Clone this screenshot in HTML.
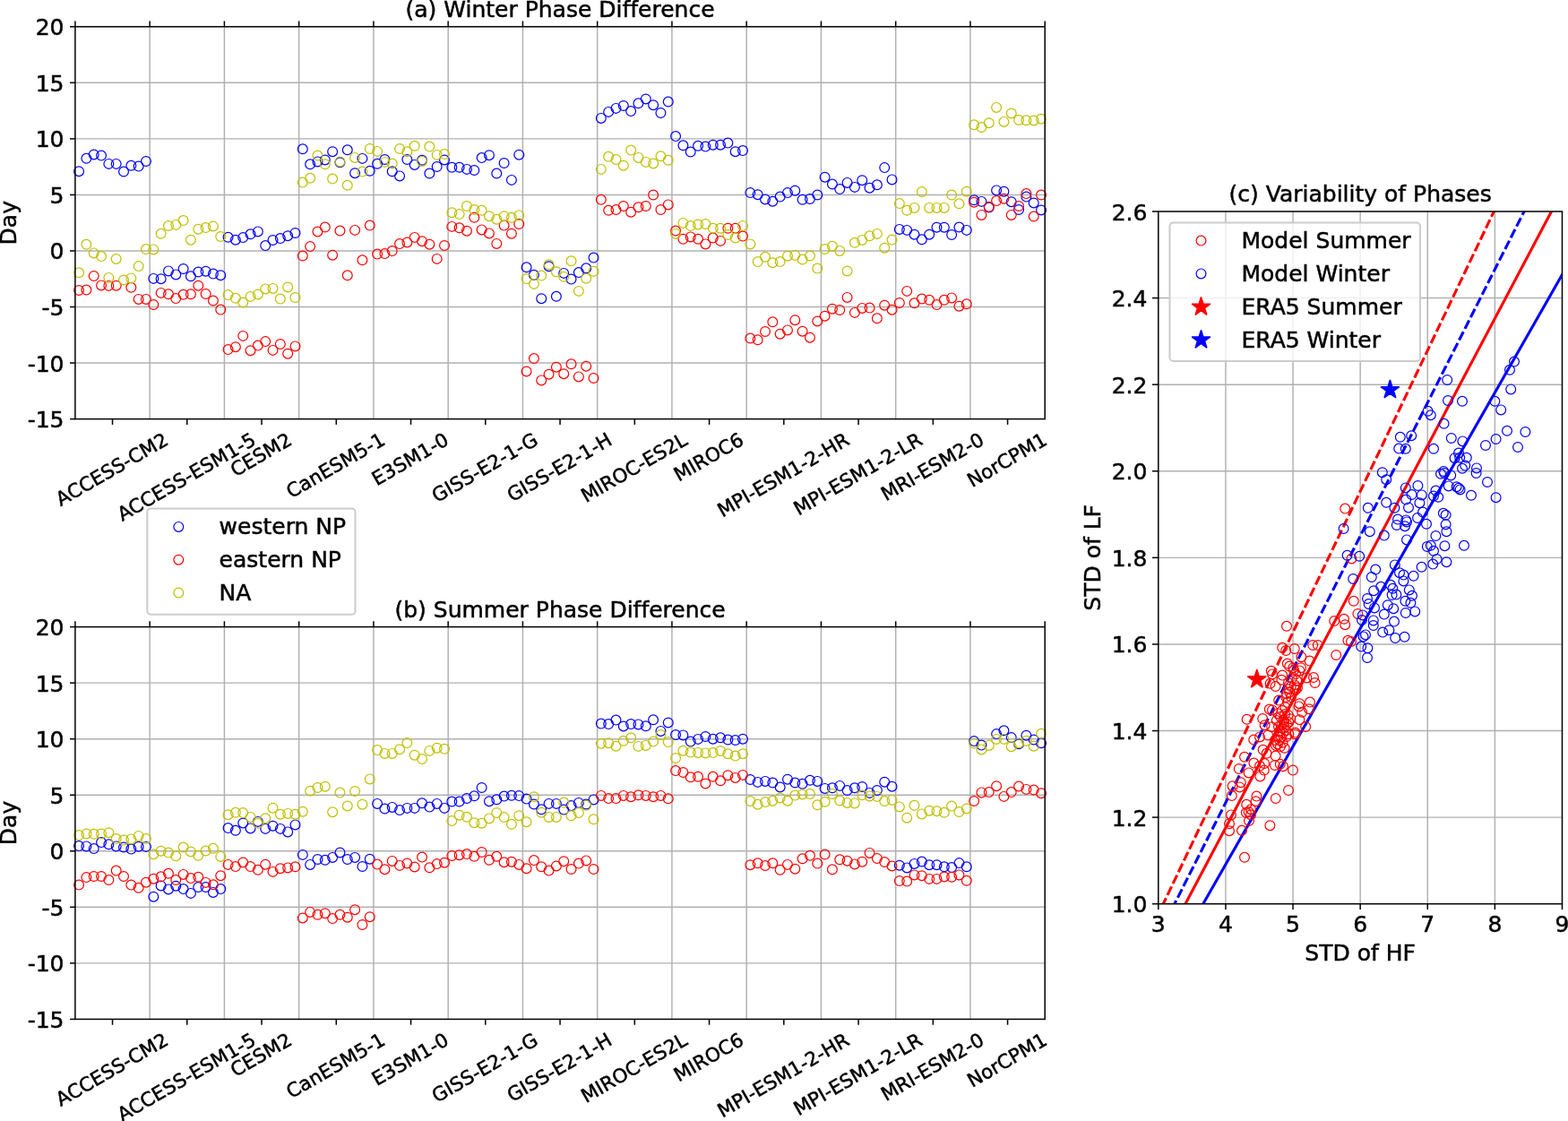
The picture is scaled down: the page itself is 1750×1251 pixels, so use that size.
<!DOCTYPE html>
<html lang="en"><head><meta charset="utf-8"><title>Phase Difference</title>
<style>
html,body{margin:0;padding:0;background:#fff;}
body{width:1750px;height:1251px;overflow:hidden;}
svg{display:block;font-family:"DejaVu Sans","Liberation Sans",sans-serif;font-size:25.0px;fill:#000;font-variant-ligatures:none;}
text{stroke:#000;stroke-width:0.5px;}
.g{stroke:#b0b0b0;stroke-width:1.45;fill:none}
.t{stroke:#000;stroke-width:1.5;fill:none}
.s{stroke:#000;stroke-width:1.5;fill:none}
.cb{stroke:#0000ff;stroke-width:1.2;fill:none}
.cr{stroke:#ff0000;stroke-width:1.2;fill:none}
.cy{stroke:#bfbf00;stroke-width:1.2;fill:none}
.lg{fill:#fff;fill-opacity:.8;stroke:#ccc;stroke-width:2}
</style></head><body>
<svg width="1750" height="1251" viewBox="0 0 1750 1251">
<rect x="0" y="0" width="1750" height="1251" fill="#fff"/>
<g>
<line x1="167.15" y1="29.8" x2="167.15" y2="467.6" class="g"/>
<line x1="250.41" y1="29.8" x2="250.41" y2="467.6" class="g"/>
<line x1="333.66" y1="29.8" x2="333.66" y2="467.6" class="g"/>
<line x1="416.92" y1="29.8" x2="416.92" y2="467.6" class="g"/>
<line x1="500.17" y1="29.8" x2="500.17" y2="467.6" class="g"/>
<line x1="583.42" y1="29.8" x2="583.42" y2="467.6" class="g"/>
<line x1="666.68" y1="29.8" x2="666.68" y2="467.6" class="g"/>
<line x1="749.93" y1="29.8" x2="749.93" y2="467.6" class="g"/>
<line x1="833.18" y1="29.8" x2="833.18" y2="467.6" class="g"/>
<line x1="916.44" y1="29.8" x2="916.44" y2="467.6" class="g"/>
<line x1="999.69" y1="29.8" x2="999.69" y2="467.6" class="g"/>
<line x1="1082.95" y1="29.8" x2="1082.95" y2="467.6" class="g"/>
<line x1="83.9" y1="405.06" x2="1166.2" y2="405.06" class="g"/>
<line x1="83.9" y1="342.51" x2="1166.2" y2="342.51" class="g"/>
<line x1="83.9" y1="279.97" x2="1166.2" y2="279.97" class="g"/>
<line x1="83.9" y1="217.43" x2="1166.2" y2="217.43" class="g"/>
<line x1="83.9" y1="154.89" x2="1166.2" y2="154.89" class="g"/>
<line x1="83.9" y1="92.34" x2="1166.2" y2="92.34" class="g"/>
<circle cx="88.06" cy="191.20" r="5.4" class="cb"/>
<circle cx="96.39" cy="176.80" r="5.4" class="cb"/>
<circle cx="104.71" cy="172.48" r="5.4" class="cb"/>
<circle cx="113.04" cy="173.60" r="5.4" class="cb"/>
<circle cx="121.36" cy="182.88" r="5.4" class="cb"/>
<circle cx="129.69" cy="182.88" r="5.4" class="cb"/>
<circle cx="138.02" cy="191.52" r="5.4" class="cb"/>
<circle cx="146.34" cy="184.80" r="5.4" class="cb"/>
<circle cx="154.67" cy="185.60" r="5.4" class="cb"/>
<circle cx="162.99" cy="180.00" r="5.4" class="cb"/>
<circle cx="171.32" cy="310.88" r="5.4" class="cb"/>
<circle cx="179.64" cy="311.20" r="5.4" class="cb"/>
<circle cx="187.97" cy="302.40" r="5.4" class="cb"/>
<circle cx="196.29" cy="306.40" r="5.4" class="cb"/>
<circle cx="204.62" cy="300.00" r="5.4" class="cb"/>
<circle cx="212.94" cy="308.32" r="5.4" class="cb"/>
<circle cx="221.27" cy="303.52" r="5.4" class="cb"/>
<circle cx="229.59" cy="302.72" r="5.4" class="cb"/>
<circle cx="237.92" cy="305.60" r="5.4" class="cb"/>
<circle cx="246.25" cy="307.20" r="5.4" class="cb"/>
<circle cx="254.57" cy="264.80" r="5.4" class="cb"/>
<circle cx="262.90" cy="267.68" r="5.4" class="cb"/>
<circle cx="271.22" cy="265.12" r="5.4" class="cb"/>
<circle cx="279.55" cy="261.28" r="5.4" class="cb"/>
<circle cx="287.87" cy="258.40" r="5.4" class="cb"/>
<circle cx="296.20" cy="274.08" r="5.4" class="cb"/>
<circle cx="304.52" cy="268.00" r="5.4" class="cb"/>
<circle cx="312.85" cy="266.08" r="5.4" class="cb"/>
<circle cx="321.17" cy="263.20" r="5.4" class="cb"/>
<circle cx="329.50" cy="260.00" r="5.4" class="cb"/>
<circle cx="337.82" cy="166.32" r="5.4" class="cb"/>
<circle cx="346.15" cy="183.28" r="5.4" class="cb"/>
<circle cx="354.48" cy="180.40" r="5.4" class="cb"/>
<circle cx="362.80" cy="178.48" r="5.4" class="cb"/>
<circle cx="371.13" cy="169.20" r="5.4" class="cb"/>
<circle cx="379.45" cy="181.20" r="5.4" class="cb"/>
<circle cx="387.78" cy="167.28" r="5.4" class="cb"/>
<circle cx="396.10" cy="193.20" r="5.4" class="cb"/>
<circle cx="404.43" cy="176.88" r="5.4" class="cb"/>
<circle cx="412.75" cy="190.80" r="5.4" class="cb"/>
<circle cx="421.08" cy="182.80" r="5.4" class="cb"/>
<circle cx="429.40" cy="178.00" r="5.4" class="cb"/>
<circle cx="437.73" cy="191.28" r="5.4" class="cb"/>
<circle cx="446.05" cy="196.40" r="5.4" class="cb"/>
<circle cx="454.38" cy="178.00" r="5.4" class="cb"/>
<circle cx="462.71" cy="183.92" r="5.4" class="cb"/>
<circle cx="471.03" cy="178.80" r="5.4" class="cb"/>
<circle cx="479.36" cy="193.52" r="5.4" class="cb"/>
<circle cx="487.68" cy="186.00" r="5.4" class="cb"/>
<circle cx="496.01" cy="178.48" r="5.4" class="cb"/>
<circle cx="504.33" cy="186.80" r="5.4" class="cb"/>
<circle cx="512.66" cy="186.80" r="5.4" class="cb"/>
<circle cx="520.98" cy="188.88" r="5.4" class="cb"/>
<circle cx="529.31" cy="190.00" r="5.4" class="cb"/>
<circle cx="537.63" cy="176.08" r="5.4" class="cb"/>
<circle cx="545.96" cy="173.20" r="5.4" class="cb"/>
<circle cx="554.28" cy="193.52" r="5.4" class="cb"/>
<circle cx="562.61" cy="182.00" r="5.4" class="cb"/>
<circle cx="570.93" cy="200.88" r="5.4" class="cb"/>
<circle cx="579.26" cy="172.72" r="5.4" class="cb"/>
<circle cx="587.59" cy="298.32" r="5.4" class="cb"/>
<circle cx="595.91" cy="306.80" r="5.4" class="cb"/>
<circle cx="604.24" cy="333.20" r="5.4" class="cb"/>
<circle cx="612.56" cy="297.20" r="5.4" class="cb"/>
<circle cx="620.89" cy="330.80" r="5.4" class="cb"/>
<circle cx="629.21" cy="304.88" r="5.4" class="cb"/>
<circle cx="637.54" cy="311.60" r="5.4" class="cb"/>
<circle cx="645.86" cy="304.08" r="5.4" class="cb"/>
<circle cx="654.19" cy="299.28" r="5.4" class="cb"/>
<circle cx="662.51" cy="287.60" r="5.4" class="cb"/>
<circle cx="670.84" cy="131.92" r="5.4" class="cb"/>
<circle cx="679.16" cy="124.88" r="5.4" class="cb"/>
<circle cx="687.49" cy="120.88" r="5.4" class="cb"/>
<circle cx="695.82" cy="118.00" r="5.4" class="cb"/>
<circle cx="704.14" cy="124.08" r="5.4" class="cb"/>
<circle cx="712.47" cy="115.28" r="5.4" class="cb"/>
<circle cx="720.79" cy="110.48" r="5.4" class="cb"/>
<circle cx="729.12" cy="117.20" r="5.4" class="cb"/>
<circle cx="737.44" cy="126.00" r="5.4" class="cb"/>
<circle cx="745.77" cy="113.52" r="5.4" class="cb"/>
<circle cx="754.09" cy="152.08" r="5.4" class="cb"/>
<circle cx="762.42" cy="162.32" r="5.4" class="cb"/>
<circle cx="770.74" cy="169.52" r="5.4" class="cb"/>
<circle cx="779.07" cy="162.80" r="5.4" class="cb"/>
<circle cx="787.39" cy="163.60" r="5.4" class="cb"/>
<circle cx="795.72" cy="161.68" r="5.4" class="cb"/>
<circle cx="804.05" cy="161.68" r="5.4" class="cb"/>
<circle cx="812.37" cy="159.60" r="5.4" class="cb"/>
<circle cx="820.70" cy="169.20" r="5.4" class="cb"/>
<circle cx="829.02" cy="168.08" r="5.4" class="cb"/>
<circle cx="837.35" cy="215.12" r="5.4" class="cb"/>
<circle cx="845.67" cy="217.20" r="5.4" class="cb"/>
<circle cx="854.00" cy="222.48" r="5.4" class="cb"/>
<circle cx="862.32" cy="224.72" r="5.4" class="cb"/>
<circle cx="870.65" cy="219.60" r="5.4" class="cb"/>
<circle cx="878.97" cy="215.12" r="5.4" class="cb"/>
<circle cx="887.30" cy="212.72" r="5.4" class="cb"/>
<circle cx="895.62" cy="222.80" r="5.4" class="cb"/>
<circle cx="903.95" cy="222.00" r="5.4" class="cb"/>
<circle cx="912.28" cy="217.52" r="5.4" class="cb"/>
<circle cx="920.60" cy="197.68" r="5.4" class="cb"/>
<circle cx="928.93" cy="205.52" r="5.4" class="cb"/>
<circle cx="937.25" cy="211.12" r="5.4" class="cb"/>
<circle cx="945.58" cy="203.92" r="5.4" class="cb"/>
<circle cx="953.90" cy="208.88" r="5.4" class="cb"/>
<circle cx="962.23" cy="201.20" r="5.4" class="cb"/>
<circle cx="970.55" cy="209.68" r="5.4" class="cb"/>
<circle cx="978.88" cy="206.32" r="5.4" class="cb"/>
<circle cx="987.20" cy="187.12" r="5.4" class="cb"/>
<circle cx="995.53" cy="200.40" r="5.4" class="cb"/>
<circle cx="1003.85" cy="255.92" r="5.4" class="cb"/>
<circle cx="1012.18" cy="256.88" r="5.4" class="cb"/>
<circle cx="1020.51" cy="261.68" r="5.4" class="cb"/>
<circle cx="1028.83" cy="267.28" r="5.4" class="cb"/>
<circle cx="1037.16" cy="261.68" r="5.4" class="cb"/>
<circle cx="1045.48" cy="253.68" r="5.4" class="cb"/>
<circle cx="1053.81" cy="253.68" r="5.4" class="cb"/>
<circle cx="1062.13" cy="262.00" r="5.4" class="cb"/>
<circle cx="1070.46" cy="253.52" r="5.4" class="cb"/>
<circle cx="1078.78" cy="256.88" r="5.4" class="cb"/>
<circle cx="1087.11" cy="223.28" r="5.4" class="cb"/>
<circle cx="1095.43" cy="224.88" r="5.4" class="cb"/>
<circle cx="1103.76" cy="231.60" r="5.4" class="cb"/>
<circle cx="1112.09" cy="212.40" r="5.4" class="cb"/>
<circle cx="1120.41" cy="213.68" r="5.4" class="cb"/>
<circle cx="1128.74" cy="225.20" r="5.4" class="cb"/>
<circle cx="1137.06" cy="234.00" r="5.4" class="cb"/>
<circle cx="1145.39" cy="219.60" r="5.4" class="cb"/>
<circle cx="1153.71" cy="226.48" r="5.4" class="cb"/>
<circle cx="1162.04" cy="234.48" r="5.4" class="cb"/>
<circle cx="88.06" cy="324.00" r="5.4" class="cr"/>
<circle cx="96.39" cy="323.52" r="5.4" class="cr"/>
<circle cx="104.71" cy="308.00" r="5.4" class="cr"/>
<circle cx="113.04" cy="318.40" r="5.4" class="cr"/>
<circle cx="121.36" cy="318.88" r="5.4" class="cr"/>
<circle cx="129.69" cy="318.72" r="5.4" class="cr"/>
<circle cx="146.34" cy="320.80" r="5.4" class="cr"/>
<circle cx="154.67" cy="333.92" r="5.4" class="cr"/>
<circle cx="162.99" cy="333.92" r="5.4" class="cr"/>
<circle cx="171.32" cy="340.00" r="5.4" class="cr"/>
<circle cx="179.64" cy="326.88" r="5.4" class="cr"/>
<circle cx="187.97" cy="328.32" r="5.4" class="cr"/>
<circle cx="196.29" cy="333.12" r="5.4" class="cr"/>
<circle cx="204.62" cy="328.80" r="5.4" class="cr"/>
<circle cx="212.94" cy="328.32" r="5.4" class="cr"/>
<circle cx="221.27" cy="318.72" r="5.4" class="cr"/>
<circle cx="229.59" cy="328.00" r="5.4" class="cr"/>
<circle cx="237.92" cy="335.52" r="5.4" class="cr"/>
<circle cx="246.25" cy="345.60" r="5.4" class="cr"/>
<circle cx="254.57" cy="390.08" r="5.4" class="cr"/>
<circle cx="262.90" cy="387.20" r="5.4" class="cr"/>
<circle cx="271.22" cy="374.88" r="5.4" class="cr"/>
<circle cx="279.55" cy="391.20" r="5.4" class="cr"/>
<circle cx="287.87" cy="385.60" r="5.4" class="cr"/>
<circle cx="296.20" cy="381.12" r="5.4" class="cr"/>
<circle cx="304.52" cy="390.88" r="5.4" class="cr"/>
<circle cx="312.85" cy="384.00" r="5.4" class="cr"/>
<circle cx="321.17" cy="394.72" r="5.4" class="cr"/>
<circle cx="329.50" cy="386.40" r="5.4" class="cr"/>
<circle cx="337.82" cy="285.52" r="5.4" class="cr"/>
<circle cx="346.15" cy="275.12" r="5.4" class="cr"/>
<circle cx="354.48" cy="258.48" r="5.4" class="cr"/>
<circle cx="362.80" cy="253.52" r="5.4" class="cr"/>
<circle cx="371.13" cy="284.72" r="5.4" class="cr"/>
<circle cx="379.45" cy="257.52" r="5.4" class="cr"/>
<circle cx="387.78" cy="307.28" r="5.4" class="cr"/>
<circle cx="396.10" cy="256.88" r="5.4" class="cr"/>
<circle cx="404.43" cy="290.32" r="5.4" class="cr"/>
<circle cx="412.75" cy="251.60" r="5.4" class="cr"/>
<circle cx="421.08" cy="283.60" r="5.4" class="cr"/>
<circle cx="429.40" cy="283.12" r="5.4" class="cr"/>
<circle cx="437.73" cy="280.08" r="5.4" class="cr"/>
<circle cx="446.05" cy="272.08" r="5.4" class="cr"/>
<circle cx="454.38" cy="270.48" r="5.4" class="cr"/>
<circle cx="462.71" cy="264.88" r="5.4" class="cr"/>
<circle cx="471.03" cy="269.20" r="5.4" class="cr"/>
<circle cx="479.36" cy="272.72" r="5.4" class="cr"/>
<circle cx="487.68" cy="288.88" r="5.4" class="cr"/>
<circle cx="496.01" cy="274.00" r="5.4" class="cr"/>
<circle cx="504.33" cy="252.88" r="5.4" class="cr"/>
<circle cx="512.66" cy="254.32" r="5.4" class="cr"/>
<circle cx="520.98" cy="257.68" r="5.4" class="cr"/>
<circle cx="529.31" cy="242.80" r="5.4" class="cr"/>
<circle cx="537.63" cy="256.40" r="5.4" class="cr"/>
<circle cx="545.96" cy="260.40" r="5.4" class="cr"/>
<circle cx="554.28" cy="271.92" r="5.4" class="cr"/>
<circle cx="562.61" cy="251.60" r="5.4" class="cr"/>
<circle cx="570.93" cy="260.72" r="5.4" class="cr"/>
<circle cx="579.26" cy="250.00" r="5.4" class="cr"/>
<circle cx="587.59" cy="414.48" r="5.4" class="cr"/>
<circle cx="595.91" cy="400.08" r="5.4" class="cr"/>
<circle cx="604.24" cy="424.40" r="5.4" class="cr"/>
<circle cx="612.56" cy="417.68" r="5.4" class="cr"/>
<circle cx="620.89" cy="409.68" r="5.4" class="cr"/>
<circle cx="629.21" cy="417.20" r="5.4" class="cr"/>
<circle cx="637.54" cy="406.32" r="5.4" class="cr"/>
<circle cx="645.86" cy="420.40" r="5.4" class="cr"/>
<circle cx="654.19" cy="408.72" r="5.4" class="cr"/>
<circle cx="662.51" cy="422.00" r="5.4" class="cr"/>
<circle cx="670.84" cy="222.80" r="5.4" class="cr"/>
<circle cx="679.16" cy="234.80" r="5.4" class="cr"/>
<circle cx="687.49" cy="234.00" r="5.4" class="cr"/>
<circle cx="695.82" cy="230.00" r="5.4" class="cr"/>
<circle cx="704.14" cy="236.72" r="5.4" class="cr"/>
<circle cx="712.47" cy="231.28" r="5.4" class="cr"/>
<circle cx="720.79" cy="230.00" r="5.4" class="cr"/>
<circle cx="729.12" cy="217.52" r="5.4" class="cr"/>
<circle cx="737.44" cy="234.00" r="5.4" class="cr"/>
<circle cx="745.77" cy="228.40" r="5.4" class="cr"/>
<circle cx="754.09" cy="257.52" r="5.4" class="cr"/>
<circle cx="762.42" cy="266.80" r="5.4" class="cr"/>
<circle cx="770.74" cy="264.40" r="5.4" class="cr"/>
<circle cx="779.07" cy="266.80" r="5.4" class="cr"/>
<circle cx="787.39" cy="272.40" r="5.4" class="cr"/>
<circle cx="795.72" cy="265.52" r="5.4" class="cr"/>
<circle cx="804.05" cy="268.88" r="5.4" class="cr"/>
<circle cx="812.37" cy="254.80" r="5.4" class="cr"/>
<circle cx="820.70" cy="254.80" r="5.4" class="cr"/>
<circle cx="829.02" cy="263.60" r="5.4" class="cr"/>
<circle cx="837.35" cy="377.52" r="5.4" class="cr"/>
<circle cx="845.67" cy="379.28" r="5.4" class="cr"/>
<circle cx="854.00" cy="370.00" r="5.4" class="cr"/>
<circle cx="862.32" cy="359.28" r="5.4" class="cr"/>
<circle cx="870.65" cy="372.72" r="5.4" class="cr"/>
<circle cx="878.97" cy="368.40" r="5.4" class="cr"/>
<circle cx="887.30" cy="357.20" r="5.4" class="cr"/>
<circle cx="895.62" cy="369.68" r="5.4" class="cr"/>
<circle cx="903.95" cy="376.72" r="5.4" class="cr"/>
<circle cx="912.28" cy="358.48" r="5.4" class="cr"/>
<circle cx="920.60" cy="352.72" r="5.4" class="cr"/>
<circle cx="928.93" cy="344.72" r="5.4" class="cr"/>
<circle cx="937.25" cy="346.00" r="5.4" class="cr"/>
<circle cx="945.58" cy="331.92" r="5.4" class="cr"/>
<circle cx="953.90" cy="348.88" r="5.4" class="cr"/>
<circle cx="962.23" cy="343.92" r="5.4" class="cr"/>
<circle cx="970.55" cy="343.60" r="5.4" class="cr"/>
<circle cx="978.88" cy="355.28" r="5.4" class="cr"/>
<circle cx="987.20" cy="340.72" r="5.4" class="cr"/>
<circle cx="995.53" cy="345.68" r="5.4" class="cr"/>
<circle cx="1003.85" cy="338.00" r="5.4" class="cr"/>
<circle cx="1012.18" cy="324.88" r="5.4" class="cr"/>
<circle cx="1020.51" cy="338.32" r="5.4" class="cr"/>
<circle cx="1028.83" cy="333.52" r="5.4" class="cr"/>
<circle cx="1037.16" cy="334.80" r="5.4" class="cr"/>
<circle cx="1045.48" cy="340.08" r="5.4" class="cr"/>
<circle cx="1053.81" cy="334.80" r="5.4" class="cr"/>
<circle cx="1062.13" cy="332.40" r="5.4" class="cr"/>
<circle cx="1070.46" cy="341.68" r="5.4" class="cr"/>
<circle cx="1078.78" cy="339.28" r="5.4" class="cr"/>
<circle cx="1087.11" cy="225.68" r="5.4" class="cr"/>
<circle cx="1095.43" cy="239.92" r="5.4" class="cr"/>
<circle cx="1103.76" cy="230.80" r="5.4" class="cr"/>
<circle cx="1112.09" cy="224.08" r="5.4" class="cr"/>
<circle cx="1120.41" cy="221.68" r="5.4" class="cr"/>
<circle cx="1128.74" cy="239.92" r="5.4" class="cr"/>
<circle cx="1137.06" cy="230.00" r="5.4" class="cr"/>
<circle cx="1145.39" cy="216.08" r="5.4" class="cr"/>
<circle cx="1153.71" cy="241.52" r="5.4" class="cr"/>
<circle cx="1162.04" cy="217.52" r="5.4" class="cr"/>
<circle cx="88.06" cy="304.32" r="5.4" class="cy"/>
<circle cx="96.39" cy="272.80" r="5.4" class="cy"/>
<circle cx="104.71" cy="282.40" r="5.4" class="cy"/>
<circle cx="113.04" cy="286.08" r="5.4" class="cy"/>
<circle cx="121.36" cy="309.92" r="5.4" class="cy"/>
<circle cx="129.69" cy="288.96" r="5.4" class="cy"/>
<circle cx="138.02" cy="312.48" r="5.4" class="cy"/>
<circle cx="146.34" cy="310.40" r="5.4" class="cy"/>
<circle cx="154.67" cy="297.12" r="5.4" class="cy"/>
<circle cx="162.99" cy="278.08" r="5.4" class="cy"/>
<circle cx="171.32" cy="278.40" r="5.4" class="cy"/>
<circle cx="179.64" cy="260.80" r="5.4" class="cy"/>
<circle cx="187.97" cy="252.00" r="5.4" class="cy"/>
<circle cx="196.29" cy="250.88" r="5.4" class="cy"/>
<circle cx="204.62" cy="246.08" r="5.4" class="cy"/>
<circle cx="212.94" cy="267.68" r="5.4" class="cy"/>
<circle cx="221.27" cy="255.68" r="5.4" class="cy"/>
<circle cx="229.59" cy="254.08" r="5.4" class="cy"/>
<circle cx="237.92" cy="252.48" r="5.4" class="cy"/>
<circle cx="246.25" cy="264.00" r="5.4" class="cy"/>
<circle cx="254.57" cy="329.12" r="5.4" class="cy"/>
<circle cx="262.90" cy="332.80" r="5.4" class="cy"/>
<circle cx="271.22" cy="337.60" r="5.4" class="cy"/>
<circle cx="279.55" cy="330.88" r="5.4" class="cy"/>
<circle cx="287.87" cy="328.48" r="5.4" class="cy"/>
<circle cx="296.20" cy="322.40" r="5.4" class="cy"/>
<circle cx="304.52" cy="321.92" r="5.4" class="cy"/>
<circle cx="312.85" cy="333.60" r="5.4" class="cy"/>
<circle cx="321.17" cy="320.48" r="5.4" class="cy"/>
<circle cx="329.50" cy="332.00" r="5.4" class="cy"/>
<circle cx="337.82" cy="203.60" r="5.4" class="cy"/>
<circle cx="346.15" cy="198.80" r="5.4" class="cy"/>
<circle cx="354.48" cy="173.52" r="5.4" class="cy"/>
<circle cx="362.80" cy="183.28" r="5.4" class="cy"/>
<circle cx="371.13" cy="199.60" r="5.4" class="cy"/>
<circle cx="379.45" cy="180.40" r="5.4" class="cy"/>
<circle cx="387.78" cy="206.80" r="5.4" class="cy"/>
<circle cx="396.10" cy="175.92" r="5.4" class="cy"/>
<circle cx="404.43" cy="191.60" r="5.4" class="cy"/>
<circle cx="412.75" cy="166.00" r="5.4" class="cy"/>
<circle cx="421.08" cy="168.88" r="5.4" class="cy"/>
<circle cx="429.40" cy="180.88" r="5.4" class="cy"/>
<circle cx="437.73" cy="182.48" r="5.4" class="cy"/>
<circle cx="446.05" cy="166.00" r="5.4" class="cy"/>
<circle cx="454.38" cy="169.20" r="5.4" class="cy"/>
<circle cx="462.71" cy="162.80" r="5.4" class="cy"/>
<circle cx="471.03" cy="179.92" r="5.4" class="cy"/>
<circle cx="479.36" cy="163.60" r="5.4" class="cy"/>
<circle cx="487.68" cy="172.88" r="5.4" class="cy"/>
<circle cx="496.01" cy="172.08" r="5.4" class="cy"/>
<circle cx="504.33" cy="237.20" r="5.4" class="cy"/>
<circle cx="512.66" cy="239.12" r="5.4" class="cy"/>
<circle cx="520.98" cy="230.00" r="5.4" class="cy"/>
<circle cx="529.31" cy="234.00" r="5.4" class="cy"/>
<circle cx="537.63" cy="234.80" r="5.4" class="cy"/>
<circle cx="545.96" cy="241.20" r="5.4" class="cy"/>
<circle cx="554.28" cy="244.72" r="5.4" class="cy"/>
<circle cx="562.61" cy="241.20" r="5.4" class="cy"/>
<circle cx="570.93" cy="242.80" r="5.4" class="cy"/>
<circle cx="579.26" cy="240.40" r="5.4" class="cy"/>
<circle cx="587.59" cy="311.12" r="5.4" class="cy"/>
<circle cx="595.91" cy="316.88" r="5.4" class="cy"/>
<circle cx="604.24" cy="307.60" r="5.4" class="cy"/>
<circle cx="612.56" cy="295.28" r="5.4" class="cy"/>
<circle cx="620.89" cy="303.28" r="5.4" class="cy"/>
<circle cx="629.21" cy="308.88" r="5.4" class="cy"/>
<circle cx="637.54" cy="291.28" r="5.4" class="cy"/>
<circle cx="645.86" cy="324.88" r="5.4" class="cy"/>
<circle cx="654.19" cy="310.80" r="5.4" class="cy"/>
<circle cx="662.51" cy="302.80" r="5.4" class="cy"/>
<circle cx="670.84" cy="188.88" r="5.4" class="cy"/>
<circle cx="679.16" cy="174.80" r="5.4" class="cy"/>
<circle cx="687.49" cy="178.00" r="5.4" class="cy"/>
<circle cx="695.82" cy="184.72" r="5.4" class="cy"/>
<circle cx="704.14" cy="167.60" r="5.4" class="cy"/>
<circle cx="712.47" cy="175.92" r="5.4" class="cy"/>
<circle cx="720.79" cy="180.88" r="5.4" class="cy"/>
<circle cx="729.12" cy="182.48" r="5.4" class="cy"/>
<circle cx="737.44" cy="174.32" r="5.4" class="cy"/>
<circle cx="745.77" cy="178.80" r="5.4" class="cy"/>
<circle cx="754.09" cy="260.88" r="5.4" class="cy"/>
<circle cx="762.42" cy="248.88" r="5.4" class="cy"/>
<circle cx="770.74" cy="252.08" r="5.4" class="cy"/>
<circle cx="779.07" cy="250.48" r="5.4" class="cy"/>
<circle cx="787.39" cy="250.00" r="5.4" class="cy"/>
<circle cx="795.72" cy="254.80" r="5.4" class="cy"/>
<circle cx="804.05" cy="254.80" r="5.4" class="cy"/>
<circle cx="812.37" cy="262.00" r="5.4" class="cy"/>
<circle cx="820.70" cy="265.52" r="5.4" class="cy"/>
<circle cx="829.02" cy="251.92" r="5.4" class="cy"/>
<circle cx="837.35" cy="272.40" r="5.4" class="cy"/>
<circle cx="845.67" cy="292.08" r="5.4" class="cy"/>
<circle cx="854.00" cy="286.80" r="5.4" class="cy"/>
<circle cx="862.32" cy="293.20" r="5.4" class="cy"/>
<circle cx="870.65" cy="292.08" r="5.4" class="cy"/>
<circle cx="878.97" cy="285.68" r="5.4" class="cy"/>
<circle cx="887.30" cy="284.88" r="5.4" class="cy"/>
<circle cx="895.62" cy="289.52" r="5.4" class="cy"/>
<circle cx="903.95" cy="285.52" r="5.4" class="cy"/>
<circle cx="912.28" cy="299.60" r="5.4" class="cy"/>
<circle cx="920.60" cy="278.00" r="5.4" class="cy"/>
<circle cx="928.93" cy="274.80" r="5.4" class="cy"/>
<circle cx="937.25" cy="279.92" r="5.4" class="cy"/>
<circle cx="945.58" cy="302.48" r="5.4" class="cy"/>
<circle cx="953.90" cy="270.80" r="5.4" class="cy"/>
<circle cx="962.23" cy="267.92" r="5.4" class="cy"/>
<circle cx="970.55" cy="263.28" r="5.4" class="cy"/>
<circle cx="978.88" cy="260.88" r="5.4" class="cy"/>
<circle cx="987.20" cy="276.72" r="5.4" class="cy"/>
<circle cx="995.53" cy="267.60" r="5.4" class="cy"/>
<circle cx="1003.85" cy="227.12" r="5.4" class="cy"/>
<circle cx="1012.18" cy="234.80" r="5.4" class="cy"/>
<circle cx="1020.51" cy="231.92" r="5.4" class="cy"/>
<circle cx="1028.83" cy="214.00" r="5.4" class="cy"/>
<circle cx="1037.16" cy="231.92" r="5.4" class="cy"/>
<circle cx="1045.48" cy="231.92" r="5.4" class="cy"/>
<circle cx="1053.81" cy="231.92" r="5.4" class="cy"/>
<circle cx="1062.13" cy="217.52" r="5.4" class="cy"/>
<circle cx="1070.46" cy="227.28" r="5.4" class="cy"/>
<circle cx="1078.78" cy="213.68" r="5.4" class="cy"/>
<circle cx="1087.11" cy="139.28" r="5.4" class="cy"/>
<circle cx="1095.43" cy="142.00" r="5.4" class="cy"/>
<circle cx="1103.76" cy="137.20" r="5.4" class="cy"/>
<circle cx="1112.09" cy="119.92" r="5.4" class="cy"/>
<circle cx="1120.41" cy="135.92" r="5.4" class="cy"/>
<circle cx="1128.74" cy="126.48" r="5.4" class="cy"/>
<circle cx="1137.06" cy="134.00" r="5.4" class="cy"/>
<circle cx="1145.39" cy="134.32" r="5.4" class="cy"/>
<circle cx="1153.71" cy="134.48" r="5.4" class="cy"/>
<circle cx="1162.04" cy="132.72" r="5.4" class="cy"/>
<line x1="83.90" y1="29.8" x2="83.90" y2="23.5" class="t"/>
<line x1="167.15" y1="29.8" x2="167.15" y2="23.5" class="t"/>
<line x1="250.41" y1="29.8" x2="250.41" y2="23.5" class="t"/>
<line x1="333.66" y1="29.8" x2="333.66" y2="23.5" class="t"/>
<line x1="416.92" y1="29.8" x2="416.92" y2="23.5" class="t"/>
<line x1="500.17" y1="29.8" x2="500.17" y2="23.5" class="t"/>
<line x1="583.42" y1="29.8" x2="583.42" y2="23.5" class="t"/>
<line x1="666.68" y1="29.8" x2="666.68" y2="23.5" class="t"/>
<line x1="749.93" y1="29.8" x2="749.93" y2="23.5" class="t"/>
<line x1="833.18" y1="29.8" x2="833.18" y2="23.5" class="t"/>
<line x1="916.44" y1="29.8" x2="916.44" y2="23.5" class="t"/>
<line x1="999.69" y1="29.8" x2="999.69" y2="23.5" class="t"/>
<line x1="1082.95" y1="29.8" x2="1082.95" y2="23.5" class="t"/>
<line x1="1166.20" y1="29.8" x2="1166.20" y2="23.5" class="t"/>
<line x1="125.53" y1="467.6" x2="125.53" y2="473.90000000000003" class="t"/>
<line x1="208.78" y1="467.6" x2="208.78" y2="473.90000000000003" class="t"/>
<line x1="292.03" y1="467.6" x2="292.03" y2="473.90000000000003" class="t"/>
<line x1="375.29" y1="467.6" x2="375.29" y2="473.90000000000003" class="t"/>
<line x1="458.54" y1="467.6" x2="458.54" y2="473.90000000000003" class="t"/>
<line x1="541.80" y1="467.6" x2="541.80" y2="473.90000000000003" class="t"/>
<line x1="625.05" y1="467.6" x2="625.05" y2="473.90000000000003" class="t"/>
<line x1="708.30" y1="467.6" x2="708.30" y2="473.90000000000003" class="t"/>
<line x1="791.56" y1="467.6" x2="791.56" y2="473.90000000000003" class="t"/>
<line x1="874.81" y1="467.6" x2="874.81" y2="473.90000000000003" class="t"/>
<line x1="958.07" y1="467.6" x2="958.07" y2="473.90000000000003" class="t"/>
<line x1="1041.32" y1="467.6" x2="1041.32" y2="473.90000000000003" class="t"/>
<line x1="1124.57" y1="467.6" x2="1124.57" y2="473.90000000000003" class="t"/>
<line x1="83.9" y1="467.60" x2="78.0" y2="467.60" class="t"/>
<text transform="translate(71.50,477.10)" text-anchor="end">-15</text>
<line x1="83.9" y1="405.06" x2="78.0" y2="405.06" class="t"/>
<text transform="translate(71.50,414.56)" text-anchor="end">-10</text>
<line x1="83.9" y1="342.51" x2="78.0" y2="342.51" class="t"/>
<text transform="translate(71.50,352.01)" text-anchor="end">-5</text>
<line x1="83.9" y1="279.97" x2="78.0" y2="279.97" class="t"/>
<text transform="translate(71.50,289.47)" text-anchor="end">0</text>
<line x1="83.9" y1="217.43" x2="78.0" y2="217.43" class="t"/>
<text transform="translate(71.50,226.93)" text-anchor="end">5</text>
<line x1="83.9" y1="154.89" x2="78.0" y2="154.89" class="t"/>
<text transform="translate(71.50,164.39)" text-anchor="end">10</text>
<line x1="83.9" y1="92.34" x2="78.0" y2="92.34" class="t"/>
<text transform="translate(71.50,101.84)" text-anchor="end">15</text>
<line x1="83.9" y1="29.80" x2="78.0" y2="29.80" class="t"/>
<text transform="translate(71.50,39.30)" text-anchor="end">20</text>
<rect x="83.9" y="29.8" width="1082.30" height="437.80" class="s"/>
<text transform="translate(625.05,18.80)" text-anchor="middle">(a) Winter Phase Difference</text>
<text transform="translate(18.10,248.70) rotate(-90)" text-anchor="middle">Day</text>
<text transform="translate(125.53,525.07) rotate(-30) translate(0,5.93)" text-anchor="middle" font-size="21.5">ACCESS-CM2</text>
<text transform="translate(208.78,533.48) rotate(-30) translate(0,5.93)" text-anchor="middle" font-size="21.5">ACCESS-ESM1-5</text>
<text transform="translate(292.03,508.63) rotate(-30) translate(0,5.93)" text-anchor="middle" font-size="21.5">CESM2</text>
<text transform="translate(375.29,520.69) rotate(-30) translate(0,5.93)" text-anchor="middle" font-size="21.5">CanESM5-1</text>
<text transform="translate(458.54,513.66) rotate(-30) translate(0,5.93)" text-anchor="middle" font-size="21.5">E3SM1-0</text>
<text transform="translate(541.80,523.00) rotate(-30) translate(0,5.93)" text-anchor="middle" font-size="21.5">GISS-E2-1-G</text>
<text transform="translate(625.05,522.68) rotate(-30) translate(0,5.93)" text-anchor="middle" font-size="21.5">GISS-E2-1-H</text>
<text transform="translate(708.30,523.12) rotate(-30) translate(0,5.93)" text-anchor="middle" font-size="21.5">MIROC-ES2L</text>
<text transform="translate(791.56,511.37) rotate(-30) translate(0,5.93)" text-anchor="middle" font-size="21.5">MIROC6</text>
<text transform="translate(874.81,531.36) rotate(-30) translate(0,5.93)" text-anchor="middle" font-size="21.5">MPI-ESM1-2-HR</text>
<text transform="translate(958.07,530.31) rotate(-30) translate(0,5.93)" text-anchor="middle" font-size="21.5">MPI-ESM1-2-LR</text>
<text transform="translate(1041.32,522.13) rotate(-30) translate(0,5.93)" text-anchor="middle" font-size="21.5">MRI-ESM2-0</text>
<text transform="translate(1124.57,514.58) rotate(-30) translate(0,5.93)" text-anchor="middle" font-size="21.5">NorCPM1</text>
</g>
<g>
<line x1="167.15" y1="699.6" x2="167.15" y2="1137.4" class="g"/>
<line x1="250.41" y1="699.6" x2="250.41" y2="1137.4" class="g"/>
<line x1="333.66" y1="699.6" x2="333.66" y2="1137.4" class="g"/>
<line x1="416.92" y1="699.6" x2="416.92" y2="1137.4" class="g"/>
<line x1="500.17" y1="699.6" x2="500.17" y2="1137.4" class="g"/>
<line x1="583.42" y1="699.6" x2="583.42" y2="1137.4" class="g"/>
<line x1="666.68" y1="699.6" x2="666.68" y2="1137.4" class="g"/>
<line x1="749.93" y1="699.6" x2="749.93" y2="1137.4" class="g"/>
<line x1="833.18" y1="699.6" x2="833.18" y2="1137.4" class="g"/>
<line x1="916.44" y1="699.6" x2="916.44" y2="1137.4" class="g"/>
<line x1="999.69" y1="699.6" x2="999.69" y2="1137.4" class="g"/>
<line x1="1082.95" y1="699.6" x2="1082.95" y2="1137.4" class="g"/>
<line x1="83.9" y1="1074.86" x2="1166.2" y2="1074.86" class="g"/>
<line x1="83.9" y1="1012.31" x2="1166.2" y2="1012.31" class="g"/>
<line x1="83.9" y1="949.77" x2="1166.2" y2="949.77" class="g"/>
<line x1="83.9" y1="887.23" x2="1166.2" y2="887.23" class="g"/>
<line x1="83.9" y1="824.69" x2="1166.2" y2="824.69" class="g"/>
<line x1="83.9" y1="762.14" x2="1166.2" y2="762.14" class="g"/>
<circle cx="88.06" cy="944.08" r="5.4" class="cb"/>
<circle cx="96.39" cy="944.40" r="5.4" class="cb"/>
<circle cx="104.71" cy="947.12" r="5.4" class="cb"/>
<circle cx="113.04" cy="940.08" r="5.4" class="cb"/>
<circle cx="121.36" cy="942.32" r="5.4" class="cb"/>
<circle cx="129.69" cy="944.40" r="5.4" class="cb"/>
<circle cx="138.02" cy="945.52" r="5.4" class="cb"/>
<circle cx="146.34" cy="947.60" r="5.4" class="cb"/>
<circle cx="154.67" cy="944.72" r="5.4" class="cb"/>
<circle cx="162.99" cy="944.88" r="5.4" class="cb"/>
<circle cx="171.32" cy="1000.72" r="5.4" class="cb"/>
<circle cx="179.64" cy="988.40" r="5.4" class="cb"/>
<circle cx="187.97" cy="992.40" r="5.4" class="cb"/>
<circle cx="196.29" cy="988.72" r="5.4" class="cb"/>
<circle cx="204.62" cy="992.08" r="5.4" class="cb"/>
<circle cx="212.94" cy="996.88" r="5.4" class="cb"/>
<circle cx="221.27" cy="990.00" r="5.4" class="cb"/>
<circle cx="229.59" cy="990.00" r="5.4" class="cb"/>
<circle cx="237.92" cy="995.92" r="5.4" class="cb"/>
<circle cx="246.25" cy="992.08" r="5.4" class="cb"/>
<circle cx="254.57" cy="924.08" r="5.4" class="cb"/>
<circle cx="262.90" cy="926.80" r="5.4" class="cb"/>
<circle cx="271.22" cy="918.48" r="5.4" class="cb"/>
<circle cx="279.55" cy="924.40" r="5.4" class="cb"/>
<circle cx="287.87" cy="916.88" r="5.4" class="cb"/>
<circle cx="296.20" cy="924.88" r="5.4" class="cb"/>
<circle cx="304.52" cy="921.68" r="5.4" class="cb"/>
<circle cx="312.85" cy="924.88" r="5.4" class="cb"/>
<circle cx="321.17" cy="928.40" r="5.4" class="cb"/>
<circle cx="329.50" cy="920.40" r="5.4" class="cb"/>
<circle cx="337.82" cy="953.88" r="5.4" class="cb"/>
<circle cx="346.15" cy="964.92" r="5.4" class="cb"/>
<circle cx="354.48" cy="959.00" r="5.4" class="cb"/>
<circle cx="362.80" cy="959.80" r="5.4" class="cb"/>
<circle cx="371.13" cy="956.92" r="5.4" class="cb"/>
<circle cx="379.45" cy="951.48" r="5.4" class="cb"/>
<circle cx="387.78" cy="959.00" r="5.4" class="cb"/>
<circle cx="396.10" cy="956.92" r="5.4" class="cb"/>
<circle cx="404.43" cy="967.00" r="5.4" class="cb"/>
<circle cx="412.75" cy="958.68" r="5.4" class="cb"/>
<circle cx="421.08" cy="896.92" r="5.4" class="cb"/>
<circle cx="429.40" cy="902.52" r="5.4" class="cb"/>
<circle cx="437.73" cy="900.92" r="5.4" class="cb"/>
<circle cx="446.05" cy="904.12" r="5.4" class="cb"/>
<circle cx="454.38" cy="901.88" r="5.4" class="cb"/>
<circle cx="462.71" cy="901.88" r="5.4" class="cb"/>
<circle cx="471.03" cy="896.28" r="5.4" class="cb"/>
<circle cx="479.36" cy="900.60" r="5.4" class="cb"/>
<circle cx="487.68" cy="896.92" r="5.4" class="cb"/>
<circle cx="496.01" cy="901.88" r="5.4" class="cb"/>
<circle cx="504.33" cy="894.52" r="5.4" class="cb"/>
<circle cx="512.66" cy="894.52" r="5.4" class="cb"/>
<circle cx="520.98" cy="891.00" r="5.4" class="cb"/>
<circle cx="529.31" cy="888.28" r="5.4" class="cb"/>
<circle cx="537.63" cy="879.00" r="5.4" class="cb"/>
<circle cx="545.96" cy="894.20" r="5.4" class="cb"/>
<circle cx="554.28" cy="892.28" r="5.4" class="cb"/>
<circle cx="562.61" cy="888.60" r="5.4" class="cb"/>
<circle cx="570.93" cy="887.80" r="5.4" class="cb"/>
<circle cx="579.26" cy="888.12" r="5.4" class="cb"/>
<circle cx="587.59" cy="891.60" r="5.4" class="cb"/>
<circle cx="595.91" cy="897.52" r="5.4" class="cb"/>
<circle cx="604.24" cy="903.28" r="5.4" class="cb"/>
<circle cx="612.56" cy="896.88" r="5.4" class="cb"/>
<circle cx="620.89" cy="896.88" r="5.4" class="cb"/>
<circle cx="629.21" cy="903.60" r="5.4" class="cb"/>
<circle cx="637.54" cy="899.12" r="5.4" class="cb"/>
<circle cx="645.86" cy="895.92" r="5.4" class="cb"/>
<circle cx="654.19" cy="897.52" r="5.4" class="cb"/>
<circle cx="662.51" cy="892.40" r="5.4" class="cb"/>
<circle cx="670.84" cy="807.60" r="5.4" class="cb"/>
<circle cx="679.16" cy="808.08" r="5.4" class="cb"/>
<circle cx="687.49" cy="803.60" r="5.4" class="cb"/>
<circle cx="695.82" cy="810.48" r="5.4" class="cb"/>
<circle cx="704.14" cy="808.08" r="5.4" class="cb"/>
<circle cx="712.47" cy="808.40" r="5.4" class="cb"/>
<circle cx="720.79" cy="810.32" r="5.4" class="cb"/>
<circle cx="729.12" cy="803.28" r="5.4" class="cb"/>
<circle cx="737.44" cy="815.92" r="5.4" class="cb"/>
<circle cx="745.77" cy="806.48" r="5.4" class="cb"/>
<circle cx="754.09" cy="820.08" r="5.4" class="cb"/>
<circle cx="762.42" cy="820.40" r="5.4" class="cb"/>
<circle cx="770.74" cy="827.60" r="5.4" class="cb"/>
<circle cx="779.07" cy="824.88" r="5.4" class="cb"/>
<circle cx="787.39" cy="822.00" r="5.4" class="cb"/>
<circle cx="795.72" cy="824.72" r="5.4" class="cb"/>
<circle cx="804.05" cy="823.28" r="5.4" class="cb"/>
<circle cx="812.37" cy="825.52" r="5.4" class="cb"/>
<circle cx="820.70" cy="826.00" r="5.4" class="cb"/>
<circle cx="829.02" cy="824.72" r="5.4" class="cb"/>
<circle cx="837.35" cy="870.00" r="5.4" class="cb"/>
<circle cx="845.67" cy="872.88" r="5.4" class="cb"/>
<circle cx="854.00" cy="871.92" r="5.4" class="cb"/>
<circle cx="862.32" cy="873.52" r="5.4" class="cb"/>
<circle cx="870.65" cy="878.48" r="5.4" class="cb"/>
<circle cx="878.97" cy="869.68" r="5.4" class="cb"/>
<circle cx="887.30" cy="873.52" r="5.4" class="cb"/>
<circle cx="895.62" cy="874.80" r="5.4" class="cb"/>
<circle cx="903.95" cy="870.80" r="5.4" class="cb"/>
<circle cx="912.28" cy="871.92" r="5.4" class="cb"/>
<circle cx="920.60" cy="879.92" r="5.4" class="cb"/>
<circle cx="928.93" cy="879.28" r="5.4" class="cb"/>
<circle cx="937.25" cy="876.88" r="5.4" class="cb"/>
<circle cx="945.58" cy="882.00" r="5.4" class="cb"/>
<circle cx="953.90" cy="879.28" r="5.4" class="cb"/>
<circle cx="962.23" cy="878.00" r="5.4" class="cb"/>
<circle cx="970.55" cy="884.88" r="5.4" class="cb"/>
<circle cx="978.88" cy="882.00" r="5.4" class="cb"/>
<circle cx="987.20" cy="872.72" r="5.4" class="cb"/>
<circle cx="995.53" cy="877.68" r="5.4" class="cb"/>
<circle cx="1003.85" cy="965.68" r="5.4" class="cb"/>
<circle cx="1012.18" cy="968.40" r="5.4" class="cb"/>
<circle cx="1020.51" cy="963.92" r="5.4" class="cb"/>
<circle cx="1028.83" cy="961.52" r="5.4" class="cb"/>
<circle cx="1037.16" cy="965.20" r="5.4" class="cb"/>
<circle cx="1045.48" cy="965.20" r="5.4" class="cb"/>
<circle cx="1053.81" cy="967.28" r="5.4" class="cb"/>
<circle cx="1062.13" cy="968.08" r="5.4" class="cb"/>
<circle cx="1070.46" cy="963.12" r="5.4" class="cb"/>
<circle cx="1078.78" cy="967.28" r="5.4" class="cb"/>
<circle cx="1087.11" cy="827.12" r="5.4" class="cb"/>
<circle cx="1095.43" cy="831.60" r="5.4" class="cb"/>
<circle cx="1112.09" cy="819.12" r="5.4" class="cb"/>
<circle cx="1120.41" cy="815.28" r="5.4" class="cb"/>
<circle cx="1128.74" cy="823.12" r="5.4" class="cb"/>
<circle cx="1137.06" cy="830.32" r="5.4" class="cb"/>
<circle cx="1145.39" cy="820.72" r="5.4" class="cb"/>
<circle cx="1153.71" cy="825.52" r="5.4" class="cb"/>
<circle cx="1162.04" cy="829.20" r="5.4" class="cb"/>
<circle cx="88.06" cy="987.60" r="5.4" class="cr"/>
<circle cx="96.39" cy="979.12" r="5.4" class="cr"/>
<circle cx="104.71" cy="978.00" r="5.4" class="cr"/>
<circle cx="113.04" cy="978.00" r="5.4" class="cr"/>
<circle cx="121.36" cy="982.00" r="5.4" class="cr"/>
<circle cx="129.69" cy="971.60" r="5.4" class="cr"/>
<circle cx="138.02" cy="978.00" r="5.4" class="cr"/>
<circle cx="146.34" cy="987.60" r="5.4" class="cr"/>
<circle cx="154.67" cy="990.80" r="5.4" class="cr"/>
<circle cx="162.99" cy="984.72" r="5.4" class="cr"/>
<circle cx="171.32" cy="980.72" r="5.4" class="cr"/>
<circle cx="179.64" cy="978.32" r="5.4" class="cr"/>
<circle cx="187.97" cy="974.80" r="5.4" class="cr"/>
<circle cx="196.29" cy="982.00" r="5.4" class="cr"/>
<circle cx="204.62" cy="975.92" r="5.4" class="cr"/>
<circle cx="212.94" cy="980.08" r="5.4" class="cr"/>
<circle cx="221.27" cy="978.80" r="5.4" class="cr"/>
<circle cx="229.59" cy="984.88" r="5.4" class="cr"/>
<circle cx="237.92" cy="987.28" r="5.4" class="cr"/>
<circle cx="246.25" cy="977.20" r="5.4" class="cr"/>
<circle cx="254.57" cy="964.88" r="5.4" class="cr"/>
<circle cx="262.90" cy="967.12" r="5.4" class="cr"/>
<circle cx="271.22" cy="962.48" r="5.4" class="cr"/>
<circle cx="279.55" cy="967.12" r="5.4" class="cr"/>
<circle cx="287.87" cy="970.80" r="5.4" class="cr"/>
<circle cx="296.20" cy="964.72" r="5.4" class="cr"/>
<circle cx="304.52" cy="972.88" r="5.4" class="cr"/>
<circle cx="312.85" cy="969.20" r="5.4" class="cr"/>
<circle cx="321.17" cy="968.40" r="5.4" class="cr"/>
<circle cx="329.50" cy="967.28" r="5.4" class="cr"/>
<circle cx="337.82" cy="1024.48" r="5.4" class="cr"/>
<circle cx="346.15" cy="1017.92" r="5.4" class="cr"/>
<circle cx="354.48" cy="1020.80" r="5.4" class="cr"/>
<circle cx="362.80" cy="1019.20" r="5.4" class="cr"/>
<circle cx="371.13" cy="1025.12" r="5.4" class="cr"/>
<circle cx="379.45" cy="1020.80" r="5.4" class="cr"/>
<circle cx="387.78" cy="1023.68" r="5.4" class="cr"/>
<circle cx="396.10" cy="1015.20" r="5.4" class="cr"/>
<circle cx="404.43" cy="1032.00" r="5.4" class="cr"/>
<circle cx="412.75" cy="1023.20" r="5.4" class="cr"/>
<circle cx="421.08" cy="964.60" r="5.4" class="cr"/>
<circle cx="429.40" cy="970.20" r="5.4" class="cr"/>
<circle cx="437.73" cy="960.92" r="5.4" class="cr"/>
<circle cx="446.05" cy="965.88" r="5.4" class="cr"/>
<circle cx="454.38" cy="963.48" r="5.4" class="cr"/>
<circle cx="462.71" cy="967.48" r="5.4" class="cr"/>
<circle cx="471.03" cy="956.60" r="5.4" class="cr"/>
<circle cx="479.36" cy="968.28" r="5.4" class="cr"/>
<circle cx="487.68" cy="964.12" r="5.4" class="cr"/>
<circle cx="496.01" cy="962.68" r="5.4" class="cr"/>
<circle cx="504.33" cy="955.00" r="5.4" class="cr"/>
<circle cx="512.66" cy="954.20" r="5.4" class="cr"/>
<circle cx="520.98" cy="953.08" r="5.4" class="cr"/>
<circle cx="529.31" cy="955.80" r="5.4" class="cr"/>
<circle cx="537.63" cy="951.00" r="5.4" class="cr"/>
<circle cx="545.96" cy="959.80" r="5.4" class="cr"/>
<circle cx="554.28" cy="955.80" r="5.4" class="cr"/>
<circle cx="562.61" cy="962.20" r="5.4" class="cr"/>
<circle cx="570.93" cy="961.72" r="5.4" class="cr"/>
<circle cx="579.26" cy="964.92" r="5.4" class="cr"/>
<circle cx="587.59" cy="969.20" r="5.4" class="cr"/>
<circle cx="595.91" cy="960.08" r="5.4" class="cr"/>
<circle cx="604.24" cy="967.28" r="5.4" class="cr"/>
<circle cx="612.56" cy="971.60" r="5.4" class="cr"/>
<circle cx="620.89" cy="966.48" r="5.4" class="cr"/>
<circle cx="629.21" cy="961.20" r="5.4" class="cr"/>
<circle cx="637.54" cy="970.00" r="5.4" class="cr"/>
<circle cx="645.86" cy="963.60" r="5.4" class="cr"/>
<circle cx="654.19" cy="960.40" r="5.4" class="cr"/>
<circle cx="662.51" cy="970.00" r="5.4" class="cr"/>
<circle cx="670.84" cy="887.92" r="5.4" class="cr"/>
<circle cx="679.16" cy="891.12" r="5.4" class="cr"/>
<circle cx="687.49" cy="891.12" r="5.4" class="cr"/>
<circle cx="695.82" cy="887.92" r="5.4" class="cr"/>
<circle cx="704.14" cy="889.20" r="5.4" class="cr"/>
<circle cx="712.47" cy="887.28" r="5.4" class="cr"/>
<circle cx="720.79" cy="887.92" r="5.4" class="cr"/>
<circle cx="729.12" cy="889.20" r="5.4" class="cr"/>
<circle cx="737.44" cy="887.92" r="5.4" class="cr"/>
<circle cx="745.77" cy="891.28" r="5.4" class="cr"/>
<circle cx="754.09" cy="860.08" r="5.4" class="cr"/>
<circle cx="762.42" cy="862.00" r="5.4" class="cr"/>
<circle cx="770.74" cy="867.28" r="5.4" class="cr"/>
<circle cx="779.07" cy="866.80" r="5.4" class="cr"/>
<circle cx="787.39" cy="874.48" r="5.4" class="cr"/>
<circle cx="795.72" cy="866.80" r="5.4" class="cr"/>
<circle cx="804.05" cy="871.28" r="5.4" class="cr"/>
<circle cx="812.37" cy="865.20" r="5.4" class="cr"/>
<circle cx="820.70" cy="867.92" r="5.4" class="cr"/>
<circle cx="829.02" cy="864.88" r="5.4" class="cr"/>
<circle cx="837.35" cy="965.20" r="5.4" class="cr"/>
<circle cx="845.67" cy="963.28" r="5.4" class="cr"/>
<circle cx="854.00" cy="966.00" r="5.4" class="cr"/>
<circle cx="862.32" cy="963.28" r="5.4" class="cr"/>
<circle cx="870.65" cy="970.80" r="5.4" class="cr"/>
<circle cx="878.97" cy="964.88" r="5.4" class="cr"/>
<circle cx="887.30" cy="969.68" r="5.4" class="cr"/>
<circle cx="895.62" cy="958.32" r="5.4" class="cr"/>
<circle cx="903.95" cy="954.80" r="5.4" class="cr"/>
<circle cx="912.28" cy="963.60" r="5.4" class="cr"/>
<circle cx="920.60" cy="953.52" r="5.4" class="cr"/>
<circle cx="928.93" cy="970.32" r="5.4" class="cr"/>
<circle cx="937.25" cy="959.28" r="5.4" class="cr"/>
<circle cx="945.58" cy="960.72" r="5.4" class="cr"/>
<circle cx="953.90" cy="964.40" r="5.4" class="cr"/>
<circle cx="962.23" cy="961.68" r="5.4" class="cr"/>
<circle cx="970.55" cy="951.92" r="5.4" class="cr"/>
<circle cx="978.88" cy="958.00" r="5.4" class="cr"/>
<circle cx="987.20" cy="962.00" r="5.4" class="cr"/>
<circle cx="995.53" cy="966.48" r="5.4" class="cr"/>
<circle cx="1003.85" cy="983.12" r="5.4" class="cr"/>
<circle cx="1012.18" cy="983.60" r="5.4" class="cr"/>
<circle cx="1020.51" cy="976.40" r="5.4" class="cr"/>
<circle cx="1028.83" cy="977.20" r="5.4" class="cr"/>
<circle cx="1037.16" cy="980.88" r="5.4" class="cr"/>
<circle cx="1045.48" cy="980.88" r="5.4" class="cr"/>
<circle cx="1053.81" cy="978.48" r="5.4" class="cr"/>
<circle cx="1062.13" cy="978.80" r="5.4" class="cr"/>
<circle cx="1070.46" cy="976.40" r="5.4" class="cr"/>
<circle cx="1078.78" cy="982.80" r="5.4" class="cr"/>
<circle cx="1087.11" cy="894.00" r="5.4" class="cr"/>
<circle cx="1095.43" cy="884.40" r="5.4" class="cr"/>
<circle cx="1103.76" cy="884.08" r="5.4" class="cr"/>
<circle cx="1112.09" cy="877.20" r="5.4" class="cr"/>
<circle cx="1120.41" cy="888.88" r="5.4" class="cr"/>
<circle cx="1128.74" cy="884.08" r="5.4" class="cr"/>
<circle cx="1137.06" cy="877.52" r="5.4" class="cr"/>
<circle cx="1145.39" cy="880.88" r="5.4" class="cr"/>
<circle cx="1153.71" cy="881.52" r="5.4" class="cr"/>
<circle cx="1162.04" cy="885.20" r="5.4" class="cr"/>
<circle cx="88.06" cy="932.08" r="5.4" class="cy"/>
<circle cx="96.39" cy="930.48" r="5.4" class="cy"/>
<circle cx="104.71" cy="930.80" r="5.4" class="cy"/>
<circle cx="113.04" cy="930.48" r="5.4" class="cy"/>
<circle cx="121.36" cy="929.20" r="5.4" class="cy"/>
<circle cx="129.69" cy="936.08" r="5.4" class="cy"/>
<circle cx="138.02" cy="937.52" r="5.4" class="cy"/>
<circle cx="146.34" cy="936.40" r="5.4" class="cy"/>
<circle cx="154.67" cy="932.88" r="5.4" class="cy"/>
<circle cx="162.99" cy="936.08" r="5.4" class="cy"/>
<circle cx="171.32" cy="953.20" r="5.4" class="cy"/>
<circle cx="179.64" cy="949.68" r="5.4" class="cy"/>
<circle cx="187.97" cy="951.60" r="5.4" class="cy"/>
<circle cx="196.29" cy="955.28" r="5.4" class="cy"/>
<circle cx="204.62" cy="945.52" r="5.4" class="cy"/>
<circle cx="212.94" cy="950.48" r="5.4" class="cy"/>
<circle cx="221.27" cy="954.80" r="5.4" class="cy"/>
<circle cx="229.59" cy="949.52" r="5.4" class="cy"/>
<circle cx="237.92" cy="946.80" r="5.4" class="cy"/>
<circle cx="246.25" cy="955.92" r="5.4" class="cy"/>
<circle cx="254.57" cy="909.20" r="5.4" class="cy"/>
<circle cx="262.90" cy="906.80" r="5.4" class="cy"/>
<circle cx="271.22" cy="907.12" r="5.4" class="cy"/>
<circle cx="279.55" cy="911.92" r="5.4" class="cy"/>
<circle cx="287.87" cy="918.80" r="5.4" class="cy"/>
<circle cx="296.20" cy="913.20" r="5.4" class="cy"/>
<circle cx="304.52" cy="901.68" r="5.4" class="cy"/>
<circle cx="312.85" cy="908.72" r="5.4" class="cy"/>
<circle cx="321.17" cy="907.92" r="5.4" class="cy"/>
<circle cx="329.50" cy="908.72" r="5.4" class="cy"/>
<circle cx="337.82" cy="905.72" r="5.4" class="cy"/>
<circle cx="346.15" cy="882.68" r="5.4" class="cy"/>
<circle cx="354.48" cy="879.00" r="5.4" class="cy"/>
<circle cx="362.80" cy="877.72" r="5.4" class="cy"/>
<circle cx="371.13" cy="906.20" r="5.4" class="cy"/>
<circle cx="379.45" cy="884.60" r="5.4" class="cy"/>
<circle cx="387.78" cy="899.48" r="5.4" class="cy"/>
<circle cx="396.10" cy="883.00" r="5.4" class="cy"/>
<circle cx="404.43" cy="897.72" r="5.4" class="cy"/>
<circle cx="412.75" cy="869.40" r="5.4" class="cy"/>
<circle cx="421.08" cy="837.08" r="5.4" class="cy"/>
<circle cx="429.40" cy="840.92" r="5.4" class="cy"/>
<circle cx="437.73" cy="840.92" r="5.4" class="cy"/>
<circle cx="446.05" cy="836.28" r="5.4" class="cy"/>
<circle cx="454.38" cy="829.08" r="5.4" class="cy"/>
<circle cx="462.71" cy="842.68" r="5.4" class="cy"/>
<circle cx="471.03" cy="847.00" r="5.4" class="cy"/>
<circle cx="479.36" cy="837.88" r="5.4" class="cy"/>
<circle cx="487.68" cy="834.68" r="5.4" class="cy"/>
<circle cx="496.01" cy="835.80" r="5.4" class="cy"/>
<circle cx="504.33" cy="916.12" r="5.4" class="cy"/>
<circle cx="512.66" cy="909.72" r="5.4" class="cy"/>
<circle cx="520.98" cy="911.80" r="5.4" class="cy"/>
<circle cx="529.31" cy="918.20" r="5.4" class="cy"/>
<circle cx="537.63" cy="918.68" r="5.4" class="cy"/>
<circle cx="545.96" cy="913.40" r="5.4" class="cy"/>
<circle cx="554.28" cy="907.00" r="5.4" class="cy"/>
<circle cx="562.61" cy="912.12" r="5.4" class="cy"/>
<circle cx="570.93" cy="919.80" r="5.4" class="cy"/>
<circle cx="579.26" cy="910.20" r="5.4" class="cy"/>
<circle cx="587.59" cy="917.20" r="5.4" class="cy"/>
<circle cx="595.91" cy="889.20" r="5.4" class="cy"/>
<circle cx="604.24" cy="906.80" r="5.4" class="cy"/>
<circle cx="612.56" cy="911.92" r="5.4" class="cy"/>
<circle cx="620.89" cy="911.92" r="5.4" class="cy"/>
<circle cx="629.21" cy="895.60" r="5.4" class="cy"/>
<circle cx="637.54" cy="910.32" r="5.4" class="cy"/>
<circle cx="645.86" cy="907.12" r="5.4" class="cy"/>
<circle cx="654.19" cy="898.80" r="5.4" class="cy"/>
<circle cx="662.51" cy="914.32" r="5.4" class="cy"/>
<circle cx="670.84" cy="829.68" r="5.4" class="cy"/>
<circle cx="679.16" cy="829.20" r="5.4" class="cy"/>
<circle cx="687.49" cy="832.72" r="5.4" class="cy"/>
<circle cx="695.82" cy="826.80" r="5.4" class="cy"/>
<circle cx="704.14" cy="823.28" r="5.4" class="cy"/>
<circle cx="712.47" cy="832.88" r="5.4" class="cy"/>
<circle cx="720.79" cy="831.92" r="5.4" class="cy"/>
<circle cx="729.12" cy="827.60" r="5.4" class="cy"/>
<circle cx="737.44" cy="820.08" r="5.4" class="cy"/>
<circle cx="745.77" cy="828.08" r="5.4" class="cy"/>
<circle cx="754.09" cy="846.00" r="5.4" class="cy"/>
<circle cx="762.42" cy="837.68" r="5.4" class="cy"/>
<circle cx="770.74" cy="839.60" r="5.4" class="cy"/>
<circle cx="779.07" cy="839.92" r="5.4" class="cy"/>
<circle cx="787.39" cy="840.40" r="5.4" class="cy"/>
<circle cx="795.72" cy="840.08" r="5.4" class="cy"/>
<circle cx="804.05" cy="838.00" r="5.4" class="cy"/>
<circle cx="812.37" cy="841.20" r="5.4" class="cy"/>
<circle cx="820.70" cy="843.60" r="5.4" class="cy"/>
<circle cx="829.02" cy="841.20" r="5.4" class="cy"/>
<circle cx="837.35" cy="894.00" r="5.4" class="cy"/>
<circle cx="845.67" cy="897.68" r="5.4" class="cy"/>
<circle cx="854.00" cy="895.12" r="5.4" class="cy"/>
<circle cx="862.32" cy="893.68" r="5.4" class="cy"/>
<circle cx="870.65" cy="890.48" r="5.4" class="cy"/>
<circle cx="878.97" cy="893.68" r="5.4" class="cy"/>
<circle cx="887.30" cy="887.60" r="5.4" class="cy"/>
<circle cx="895.62" cy="886.48" r="5.4" class="cy"/>
<circle cx="903.95" cy="886.00" r="5.4" class="cy"/>
<circle cx="912.28" cy="898.32" r="5.4" class="cy"/>
<circle cx="920.60" cy="894.80" r="5.4" class="cy"/>
<circle cx="928.93" cy="886.00" r="5.4" class="cy"/>
<circle cx="937.25" cy="893.52" r="5.4" class="cy"/>
<circle cx="945.58" cy="895.92" r="5.4" class="cy"/>
<circle cx="953.90" cy="896.40" r="5.4" class="cy"/>
<circle cx="962.23" cy="887.28" r="5.4" class="cy"/>
<circle cx="970.55" cy="888.40" r="5.4" class="cy"/>
<circle cx="978.88" cy="888.88" r="5.4" class="cy"/>
<circle cx="987.20" cy="894.00" r="5.4" class="cy"/>
<circle cx="995.53" cy="892.88" r="5.4" class="cy"/>
<circle cx="1003.85" cy="900.40" r="5.4" class="cy"/>
<circle cx="1012.18" cy="912.72" r="5.4" class="cy"/>
<circle cx="1020.51" cy="898.80" r="5.4" class="cy"/>
<circle cx="1028.83" cy="908.40" r="5.4" class="cy"/>
<circle cx="1037.16" cy="904.72" r="5.4" class="cy"/>
<circle cx="1045.48" cy="905.20" r="5.4" class="cy"/>
<circle cx="1053.81" cy="906.80" r="5.4" class="cy"/>
<circle cx="1062.13" cy="899.60" r="5.4" class="cy"/>
<circle cx="1070.46" cy="906.00" r="5.4" class="cy"/>
<circle cx="1078.78" cy="902.48" r="5.4" class="cy"/>
<circle cx="1087.11" cy="829.52" r="5.4" class="cy"/>
<circle cx="1095.43" cy="836.40" r="5.4" class="cy"/>
<circle cx="1103.76" cy="831.92" r="5.4" class="cy"/>
<circle cx="1112.09" cy="824.88" r="5.4" class="cy"/>
<circle cx="1120.41" cy="824.88" r="5.4" class="cy"/>
<circle cx="1128.74" cy="833.20" r="5.4" class="cy"/>
<circle cx="1137.06" cy="829.20" r="5.4" class="cy"/>
<circle cx="1145.39" cy="826.80" r="5.4" class="cy"/>
<circle cx="1153.71" cy="832.72" r="5.4" class="cy"/>
<circle cx="1162.04" cy="818.80" r="5.4" class="cy"/>
<line x1="83.90" y1="699.6" x2="83.90" y2="693.3000000000001" class="t"/>
<line x1="167.15" y1="699.6" x2="167.15" y2="693.3000000000001" class="t"/>
<line x1="250.41" y1="699.6" x2="250.41" y2="693.3000000000001" class="t"/>
<line x1="333.66" y1="699.6" x2="333.66" y2="693.3000000000001" class="t"/>
<line x1="416.92" y1="699.6" x2="416.92" y2="693.3000000000001" class="t"/>
<line x1="500.17" y1="699.6" x2="500.17" y2="693.3000000000001" class="t"/>
<line x1="583.42" y1="699.6" x2="583.42" y2="693.3000000000001" class="t"/>
<line x1="666.68" y1="699.6" x2="666.68" y2="693.3000000000001" class="t"/>
<line x1="749.93" y1="699.6" x2="749.93" y2="693.3000000000001" class="t"/>
<line x1="833.18" y1="699.6" x2="833.18" y2="693.3000000000001" class="t"/>
<line x1="916.44" y1="699.6" x2="916.44" y2="693.3000000000001" class="t"/>
<line x1="999.69" y1="699.6" x2="999.69" y2="693.3000000000001" class="t"/>
<line x1="1082.95" y1="699.6" x2="1082.95" y2="693.3000000000001" class="t"/>
<line x1="1166.20" y1="699.6" x2="1166.20" y2="693.3000000000001" class="t"/>
<line x1="125.53" y1="1137.4" x2="125.53" y2="1143.7" class="t"/>
<line x1="208.78" y1="1137.4" x2="208.78" y2="1143.7" class="t"/>
<line x1="292.03" y1="1137.4" x2="292.03" y2="1143.7" class="t"/>
<line x1="375.29" y1="1137.4" x2="375.29" y2="1143.7" class="t"/>
<line x1="458.54" y1="1137.4" x2="458.54" y2="1143.7" class="t"/>
<line x1="541.80" y1="1137.4" x2="541.80" y2="1143.7" class="t"/>
<line x1="625.05" y1="1137.4" x2="625.05" y2="1143.7" class="t"/>
<line x1="708.30" y1="1137.4" x2="708.30" y2="1143.7" class="t"/>
<line x1="791.56" y1="1137.4" x2="791.56" y2="1143.7" class="t"/>
<line x1="874.81" y1="1137.4" x2="874.81" y2="1143.7" class="t"/>
<line x1="958.07" y1="1137.4" x2="958.07" y2="1143.7" class="t"/>
<line x1="1041.32" y1="1137.4" x2="1041.32" y2="1143.7" class="t"/>
<line x1="1124.57" y1="1137.4" x2="1124.57" y2="1143.7" class="t"/>
<line x1="83.9" y1="1137.40" x2="78.0" y2="1137.40" class="t"/>
<text transform="translate(71.50,1146.90)" text-anchor="end">-15</text>
<line x1="83.9" y1="1074.86" x2="78.0" y2="1074.86" class="t"/>
<text transform="translate(71.50,1084.36)" text-anchor="end">-10</text>
<line x1="83.9" y1="1012.31" x2="78.0" y2="1012.31" class="t"/>
<text transform="translate(71.50,1021.81)" text-anchor="end">-5</text>
<line x1="83.9" y1="949.77" x2="78.0" y2="949.77" class="t"/>
<text transform="translate(71.50,959.27)" text-anchor="end">0</text>
<line x1="83.9" y1="887.23" x2="78.0" y2="887.23" class="t"/>
<text transform="translate(71.50,896.73)" text-anchor="end">5</text>
<line x1="83.9" y1="824.69" x2="78.0" y2="824.69" class="t"/>
<text transform="translate(71.50,834.19)" text-anchor="end">10</text>
<line x1="83.9" y1="762.14" x2="78.0" y2="762.14" class="t"/>
<text transform="translate(71.50,771.64)" text-anchor="end">15</text>
<line x1="83.9" y1="699.60" x2="78.0" y2="699.60" class="t"/>
<text transform="translate(71.50,709.10)" text-anchor="end">20</text>
<rect x="83.9" y="699.6" width="1082.30" height="437.80" class="s"/>
<text transform="translate(625.05,688.60)" text-anchor="middle">(b) Summer Phase Difference</text>
<text transform="translate(18.10,918.50) rotate(-90)" text-anchor="middle">Day</text>
<text transform="translate(125.53,1194.87) rotate(-30) translate(0,5.93)" text-anchor="middle" font-size="21.5">ACCESS-CM2</text>
<text transform="translate(208.78,1203.28) rotate(-30) translate(0,5.93)" text-anchor="middle" font-size="21.5">ACCESS-ESM1-5</text>
<text transform="translate(292.03,1178.43) rotate(-30) translate(0,5.93)" text-anchor="middle" font-size="21.5">CESM2</text>
<text transform="translate(375.29,1190.49) rotate(-30) translate(0,5.93)" text-anchor="middle" font-size="21.5">CanESM5-1</text>
<text transform="translate(458.54,1183.46) rotate(-30) translate(0,5.93)" text-anchor="middle" font-size="21.5">E3SM1-0</text>
<text transform="translate(541.80,1192.80) rotate(-30) translate(0,5.93)" text-anchor="middle" font-size="21.5">GISS-E2-1-G</text>
<text transform="translate(625.05,1192.48) rotate(-30) translate(0,5.93)" text-anchor="middle" font-size="21.5">GISS-E2-1-H</text>
<text transform="translate(708.30,1192.92) rotate(-30) translate(0,5.93)" text-anchor="middle" font-size="21.5">MIROC-ES2L</text>
<text transform="translate(791.56,1181.17) rotate(-30) translate(0,5.93)" text-anchor="middle" font-size="21.5">MIROC6</text>
<text transform="translate(874.81,1201.16) rotate(-30) translate(0,5.93)" text-anchor="middle" font-size="21.5">MPI-ESM1-2-HR</text>
<text transform="translate(958.07,1200.11) rotate(-30) translate(0,5.93)" text-anchor="middle" font-size="21.5">MPI-ESM1-2-LR</text>
<text transform="translate(1041.32,1191.93) rotate(-30) translate(0,5.93)" text-anchor="middle" font-size="21.5">MRI-ESM2-0</text>
<text transform="translate(1124.57,1184.38) rotate(-30) translate(0,5.93)" text-anchor="middle" font-size="21.5">NorCPM1</text>
</g>
<g>
<rect x="164.3" y="567.5" width="232.2" height="118.3" rx="4" ry="4" class="lg"/>
<circle cx="199.3" cy="587.90" r="5.4" class="cb"/>
<text transform="translate(244.60,596.30)">western NP</text>
<circle cx="199.3" cy="624.70" r="5.4" class="cr"/>
<text transform="translate(244.60,633.10)">eastern NP</text>
<circle cx="199.3" cy="661.50" r="5.4" class="cy"/>
<text transform="translate(244.60,669.90)">NA</text>
</g>
<g>
<clipPath id="cc"><rect x="1292.8" y="236.0" width="450.70" height="772.70"/></clipPath>
<line x1="1367.92" y1="236.0" x2="1367.92" y2="1008.7" class="g"/>
<line x1="1443.03" y1="236.0" x2="1443.03" y2="1008.7" class="g"/>
<line x1="1518.15" y1="236.0" x2="1518.15" y2="1008.7" class="g"/>
<line x1="1593.27" y1="236.0" x2="1593.27" y2="1008.7" class="g"/>
<line x1="1668.38" y1="236.0" x2="1668.38" y2="1008.7" class="g"/>
<line x1="1292.8" y1="912.11" x2="1743.5" y2="912.11" class="g"/>
<line x1="1292.8" y1="815.53" x2="1743.5" y2="815.53" class="g"/>
<line x1="1292.8" y1="718.94" x2="1743.5" y2="718.94" class="g"/>
<line x1="1292.8" y1="622.35" x2="1743.5" y2="622.35" class="g"/>
<line x1="1292.8" y1="525.76" x2="1743.5" y2="525.76" class="g"/>
<line x1="1292.8" y1="429.17" x2="1743.5" y2="429.17" class="g"/>
<line x1="1292.8" y1="332.59" x2="1743.5" y2="332.59" class="g"/>
<g clip-path="url(#cc)">
<line x1="1294.85" y1="1015.92" x2="1670.75" y2="228.78" stroke="#ff0000" stroke-width="3.1" stroke-dasharray="10.500 3.720" stroke-dashoffset="9.58" fill="none"/>
<line x1="1307.29" y1="1015.84" x2="1704.61" y2="228.86" stroke="#0000ff" stroke-width="3.1" stroke-dasharray="10.503 3.721" stroke-dashoffset="12.65" fill="none"/>
<line x1="1319.26" y1="1015.77" x2="1735.24" y2="228.93" stroke="#ff0000" stroke-width="3.1" fill="none"/>
<line x1="1338.83" y1="1015.65" x2="1747.77" y2="299.05" stroke="#0000ff" stroke-width="3.1" fill="none"/>
<circle cx="1374.8" cy="888.0" r="5.4" class="cr"/>
<circle cx="1402.4" cy="888.6" r="5.4" class="cr"/>
<circle cx="1401.6" cy="894.2" r="5.4" class="cr"/>
<circle cx="1391.2" cy="897.8" r="5.4" class="cr"/>
<circle cx="1396.0" cy="903.2" r="5.4" class="cr"/>
<circle cx="1390.8" cy="906.8" r="5.4" class="cr"/>
<circle cx="1393.6" cy="906.0" r="5.4" class="cr"/>
<circle cx="1396.0" cy="909.2" r="5.4" class="cr"/>
<circle cx="1374.0" cy="909.4" r="5.4" class="cr"/>
<circle cx="1394.0" cy="916.0" r="5.4" class="cr"/>
<circle cx="1372.0" cy="919.2" r="5.4" class="cr"/>
<circle cx="1372.0" cy="927.2" r="5.4" class="cr"/>
<circle cx="1386.0" cy="926.8" r="5.4" class="cr"/>
<circle cx="1417.4" cy="921.2" r="5.4" class="cr"/>
<circle cx="1423.8" cy="891.0" r="5.4" class="cr"/>
<circle cx="1438.0" cy="882.0" r="5.4" class="cr"/>
<circle cx="1389.0" cy="956.8" r="5.4" class="cr"/>
<circle cx="1375.6" cy="877.2" r="5.4" class="cr"/>
<circle cx="1384.8" cy="873.2" r="5.4" class="cr"/>
<circle cx="1383.6" cy="878.4" r="5.4" class="cr"/>
<circle cx="1382.8" cy="858.0" r="5.4" class="cr"/>
<circle cx="1393.6" cy="862.4" r="5.4" class="cr"/>
<circle cx="1389.0" cy="844.8" r="5.4" class="cr"/>
<circle cx="1399.4" cy="851.6" r="5.4" class="cr"/>
<circle cx="1406.4" cy="866.4" r="5.4" class="cr"/>
<circle cx="1410.8" cy="859.6" r="5.4" class="cr"/>
<circle cx="1406.0" cy="854.8" r="5.4" class="cr"/>
<circle cx="1411.2" cy="852.0" r="5.4" class="cr"/>
<circle cx="1443.0" cy="859.6" r="5.4" class="cr"/>
<circle cx="1432.0" cy="855.2" r="5.4" class="cr"/>
<circle cx="1428.8" cy="852.8" r="5.4" class="cr"/>
<circle cx="1422.8" cy="854.0" r="5.4" class="cr"/>
<circle cx="1423.6" cy="843.6" r="5.4" class="cr"/>
<circle cx="1413.6" cy="840.8" r="5.4" class="cr"/>
<circle cx="1409.6" cy="836.8" r="5.4" class="cr"/>
<circle cx="1399.2" cy="825.6" r="5.4" class="cr"/>
<circle cx="1406.0" cy="822.4" r="5.4" class="cr"/>
<circle cx="1415.2" cy="820.4" r="5.4" class="cr"/>
<circle cx="1391.6" cy="802.8" r="5.4" class="cr"/>
<circle cx="1409.2" cy="802.0" r="5.4" class="cr"/>
<circle cx="1411.6" cy="809.2" r="5.4" class="cr"/>
<circle cx="1419.2" cy="811.2" r="5.4" class="cr"/>
<circle cx="1457.2" cy="811.0" r="5.4" class="cr"/>
<circle cx="1445.6" cy="817.6" r="5.4" class="cr"/>
<circle cx="1445.2" cy="819.2" r="5.4" class="cr"/>
<circle cx="1450.4" cy="803.2" r="5.4" class="cr"/>
<circle cx="1453.2" cy="794.8" r="5.4" class="cr"/>
<circle cx="1461.0" cy="791.2" r="5.4" class="cr"/>
<circle cx="1438.4" cy="819.2" r="5.4" class="cr"/>
<circle cx="1433.6" cy="834.8" r="5.4" class="cr"/>
<circle cx="1431.6" cy="828.8" r="5.4" class="cr"/>
<circle cx="1424.0" cy="832.0" r="5.4" class="cr"/>
<circle cx="1426.0" cy="830.4" r="5.4" class="cr"/>
<circle cx="1428.0" cy="826.0" r="5.4" class="cr"/>
<circle cx="1430.4" cy="809.2" r="5.4" class="cr"/>
<circle cx="1434.0" cy="812.0" r="5.4" class="cr"/>
<circle cx="1436.0" cy="808.0" r="5.4" class="cr"/>
<circle cx="1428.0" cy="816.0" r="5.4" class="cr"/>
<circle cx="1432.0" cy="818.0" r="5.4" class="cr"/>
<circle cx="1435.2" cy="815.2" r="5.4" class="cr"/>
<circle cx="1426.0" cy="822.0" r="5.4" class="cr"/>
<circle cx="1430.0" cy="822.4" r="5.4" class="cr"/>
<circle cx="1438.4" cy="806.0" r="5.4" class="cr"/>
<circle cx="1440.4" cy="802.2" r="5.4" class="cr"/>
<circle cx="1424.8" cy="804.0" r="5.4" class="cr"/>
<circle cx="1432.4" cy="803.4" r="5.4" class="cr"/>
<circle cx="1504.4" cy="714.8" r="5.4" class="cr"/>
<circle cx="1508.0" cy="716.0" r="5.4" class="cr"/>
<circle cx="1491.2" cy="731.0" r="5.4" class="cr"/>
<circle cx="1465.2" cy="720.0" r="5.4" class="cr"/>
<circle cx="1470.8" cy="720.0" r="5.4" class="cr"/>
<circle cx="1431.2" cy="722.8" r="5.4" class="cr"/>
<circle cx="1435.2" cy="726.0" r="5.4" class="cr"/>
<circle cx="1444.8" cy="724.0" r="5.4" class="cr"/>
<circle cx="1452.4" cy="733.2" r="5.4" class="cr"/>
<circle cx="1461.6" cy="737.6" r="5.4" class="cr"/>
<circle cx="1436.8" cy="740.6" r="5.4" class="cr"/>
<circle cx="1439.2" cy="743.6" r="5.4" class="cr"/>
<circle cx="1443.2" cy="745.2" r="5.4" class="cr"/>
<circle cx="1452.0" cy="745.2" r="5.4" class="cr"/>
<circle cx="1450.4" cy="748.4" r="5.4" class="cr"/>
<circle cx="1418.8" cy="748.8" r="5.4" class="cr"/>
<circle cx="1420.0" cy="752.4" r="5.4" class="cr"/>
<circle cx="1431.2" cy="753.6" r="5.4" class="cr"/>
<circle cx="1466.0" cy="756.0" r="5.4" class="cr"/>
<circle cx="1467.6" cy="762.0" r="5.4" class="cr"/>
<circle cx="1458.4" cy="756.4" r="5.4" class="cr"/>
<circle cx="1417.6" cy="762.8" r="5.4" class="cr"/>
<circle cx="1423.6" cy="766.0" r="5.4" class="cr"/>
<circle cx="1430.4" cy="758.8" r="5.4" class="cr"/>
<circle cx="1447.2" cy="759.6" r="5.4" class="cr"/>
<circle cx="1444.8" cy="764.4" r="5.4" class="cr"/>
<circle cx="1440.8" cy="766.0" r="5.4" class="cr"/>
<circle cx="1448.0" cy="767.6" r="5.4" class="cr"/>
<circle cx="1436.0" cy="774.0" r="5.4" class="cr"/>
<circle cx="1439.2" cy="772.4" r="5.4" class="cr"/>
<circle cx="1435.2" cy="778.0" r="5.4" class="cr"/>
<circle cx="1427.2" cy="781.6" r="5.4" class="cr"/>
<circle cx="1462.0" cy="783.6" r="5.4" class="cr"/>
<circle cx="1450.4" cy="785.2" r="5.4" class="cr"/>
<circle cx="1449.6" cy="788.4" r="5.4" class="cr"/>
<circle cx="1434.4" cy="789.2" r="5.4" class="cr"/>
<circle cx="1416.8" cy="791.6" r="5.4" class="cr"/>
<circle cx="1420.0" cy="792.4" r="5.4" class="cr"/>
<circle cx="1426.4" cy="796.4" r="5.4" class="cr"/>
<circle cx="1437.6" cy="798.0" r="5.4" class="cr"/>
<circle cx="1436.0" cy="698.8" r="5.4" class="cr"/>
<circle cx="1510.8" cy="670.8" r="5.4" class="cr"/>
<circle cx="1515.4" cy="685.0" r="5.4" class="cr"/>
<circle cx="1489.2" cy="693.0" r="5.4" class="cr"/>
<circle cx="1500.0" cy="690.8" r="5.4" class="cr"/>
<circle cx="1501.2" cy="697.2" r="5.4" class="cr"/>
<circle cx="1508.4" cy="623.4" r="5.4" class="cr"/>
<circle cx="1501.2" cy="567.6" r="5.4" class="cr"/>
<circle cx="1446.0" cy="752.0" r="5.4" class="cr"/>
<circle cx="1442.0" cy="757.0" r="5.4" class="cr"/>
<circle cx="1438.0" cy="762.0" r="5.4" class="cr"/>
<circle cx="1441.0" cy="778.0" r="5.4" class="cr"/>
<circle cx="1437.0" cy="784.0" r="5.4" class="cr"/>
<circle cx="1431.0" cy="793.0" r="5.4" class="cr"/>
<circle cx="1434.0" cy="797.0" r="5.4" class="cr"/>
<circle cx="1429.0" cy="800.0" r="5.4" class="cr"/>
<circle cx="1427.0" cy="811.0" r="5.4" class="cr"/>
<circle cx="1433.0" cy="806.0" r="5.4" class="cr"/>
<circle cx="1436.0" cy="822.0" r="5.4" class="cr"/>
<circle cx="1423.0" cy="826.0" r="5.4" class="cr"/>
<circle cx="1429.0" cy="833.0" r="5.4" class="cr"/>
<circle cx="1444.0" cy="748.0" r="5.4" class="cr"/>
<circle cx="1446.0" cy="770.0" r="5.4" class="cr"/>
<circle cx="1438.0" cy="769.0" r="5.4" class="cr"/>
<circle cx="1517.2" cy="620.8" r="5.4" class="cb"/>
<circle cx="1503.6" cy="619.8" r="5.4" class="cb"/>
<circle cx="1510.2" cy="646.0" r="5.4" class="cb"/>
<circle cx="1535.2" cy="635.6" r="5.4" class="cb"/>
<circle cx="1530.8" cy="644.0" r="5.4" class="cb"/>
<circle cx="1556.8" cy="630.4" r="5.4" class="cb"/>
<circle cx="1562.0" cy="639.2" r="5.4" class="cb"/>
<circle cx="1566.4" cy="641.6" r="5.4" class="cb"/>
<circle cx="1577.6" cy="642.8" r="5.4" class="cb"/>
<circle cx="1566.4" cy="648.4" r="5.4" class="cb"/>
<circle cx="1541.2" cy="654.8" r="5.4" class="cb"/>
<circle cx="1533.2" cy="659.2" r="5.4" class="cb"/>
<circle cx="1552.0" cy="652.8" r="5.4" class="cb"/>
<circle cx="1554.4" cy="656.8" r="5.4" class="cb"/>
<circle cx="1572.8" cy="658.4" r="5.4" class="cb"/>
<circle cx="1553.6" cy="664.0" r="5.4" class="cb"/>
<circle cx="1558.4" cy="663.6" r="5.4" class="cb"/>
<circle cx="1576.0" cy="664.8" r="5.4" class="cb"/>
<circle cx="1526.0" cy="668.0" r="5.4" class="cb"/>
<circle cx="1527.6" cy="674.0" r="5.4" class="cb"/>
<circle cx="1534.0" cy="678.4" r="5.4" class="cb"/>
<circle cx="1548.8" cy="675.2" r="5.4" class="cb"/>
<circle cx="1555.2" cy="679.2" r="5.4" class="cb"/>
<circle cx="1568.4" cy="670.8" r="5.4" class="cb"/>
<circle cx="1574.4" cy="672.8" r="5.4" class="cb"/>
<circle cx="1579.2" cy="682.4" r="5.4" class="cb"/>
<circle cx="1568.8" cy="684.0" r="5.4" class="cb"/>
<circle cx="1544.8" cy="685.6" r="5.4" class="cb"/>
<circle cx="1520.8" cy="686.4" r="5.4" class="cb"/>
<circle cx="1520.0" cy="692.0" r="5.4" class="cb"/>
<circle cx="1532.8" cy="692.4" r="5.4" class="cb"/>
<circle cx="1532.8" cy="698.0" r="5.4" class="cb"/>
<circle cx="1556.0" cy="693.6" r="5.4" class="cb"/>
<circle cx="1543.2" cy="705.6" r="5.4" class="cb"/>
<circle cx="1550.4" cy="703.2" r="5.4" class="cb"/>
<circle cx="1521.6" cy="710.4" r="5.4" class="cb"/>
<circle cx="1524.0" cy="708.4" r="5.4" class="cb"/>
<circle cx="1557.2" cy="712.0" r="5.4" class="cb"/>
<circle cx="1567.6" cy="710.8" r="5.4" class="cb"/>
<circle cx="1519.2" cy="721.6" r="5.4" class="cb"/>
<circle cx="1526.4" cy="723.2" r="5.4" class="cb"/>
<circle cx="1526.0" cy="734.0" r="5.4" class="cb"/>
<circle cx="1499.6" cy="590.0" r="5.4" class="cb"/>
<circle cx="1526.8" cy="566.8" r="5.4" class="cb"/>
<circle cx="1528.8" cy="593.2" r="5.4" class="cb"/>
<circle cx="1547.2" cy="535.2" r="5.4" class="cb"/>
<circle cx="1542.8" cy="527.2" r="5.4" class="cb"/>
<circle cx="1547.2" cy="560.8" r="5.4" class="cb"/>
<circle cx="1556.4" cy="566.8" r="5.4" class="cb"/>
<circle cx="1544.8" cy="597.6" r="5.4" class="cb"/>
<circle cx="1568.8" cy="544.4" r="5.4" class="cb"/>
<circle cx="1582.4" cy="542.0" r="5.4" class="cb"/>
<circle cx="1575.6" cy="552.0" r="5.4" class="cb"/>
<circle cx="1586.8" cy="552.4" r="5.4" class="cb"/>
<circle cx="1569.2" cy="557.6" r="5.4" class="cb"/>
<circle cx="1584.4" cy="561.2" r="5.4" class="cb"/>
<circle cx="1572.0" cy="566.4" r="5.4" class="cb"/>
<circle cx="1588.0" cy="571.6" r="5.4" class="cb"/>
<circle cx="1582.0" cy="578.0" r="5.4" class="cb"/>
<circle cx="1560.0" cy="579.6" r="5.4" class="cb"/>
<circle cx="1569.2" cy="580.4" r="5.4" class="cb"/>
<circle cx="1570.0" cy="582.4" r="5.4" class="cb"/>
<circle cx="1558.8" cy="586.0" r="5.4" class="cb"/>
<circle cx="1568.0" cy="587.2" r="5.4" class="cb"/>
<circle cx="1592.0" cy="584.8" r="5.4" class="cb"/>
<circle cx="1570.0" cy="602.4" r="5.4" class="cb"/>
<circle cx="1602.4" cy="547.6" r="5.4" class="cb"/>
<circle cx="1600.0" cy="553.6" r="5.4" class="cb"/>
<circle cx="1605.2" cy="554.8" r="5.4" class="cb"/>
<circle cx="1616.8" cy="542.4" r="5.4" class="cb"/>
<circle cx="1610.8" cy="572.8" r="5.4" class="cb"/>
<circle cx="1613.6" cy="574.8" r="5.4" class="cb"/>
<circle cx="1613.6" cy="585.2" r="5.4" class="cb"/>
<circle cx="1614.4" cy="593.2" r="5.4" class="cb"/>
<circle cx="1602.4" cy="598.0" r="5.4" class="cb"/>
<circle cx="1612.4" cy="609.2" r="5.4" class="cb"/>
<circle cx="1592.8" cy="610.0" r="5.4" class="cb"/>
<circle cx="1596.8" cy="608.8" r="5.4" class="cb"/>
<circle cx="1600.0" cy="614.8" r="5.4" class="cb"/>
<circle cx="1603.6" cy="624.0" r="5.4" class="cb"/>
<circle cx="1614.4" cy="627.2" r="5.4" class="cb"/>
<circle cx="1586.6" cy="632.8" r="5.4" class="cb"/>
<circle cx="1599.2" cy="629.6" r="5.4" class="cb"/>
<circle cx="1634.0" cy="608.8" r="5.4" class="cb"/>
<circle cx="1596.8" cy="463.2" r="5.4" class="cb"/>
<circle cx="1593.6" cy="458.8" r="5.4" class="cb"/>
<circle cx="1611.6" cy="472.8" r="5.4" class="cb"/>
<circle cx="1675.2" cy="457.4" r="5.4" class="cb"/>
<circle cx="1682.0" cy="480.8" r="5.4" class="cb"/>
<circle cx="1702.4" cy="482.0" r="5.4" class="cb"/>
<circle cx="1669.6" cy="490.0" r="5.4" class="cb"/>
<circle cx="1658.0" cy="497.0" r="5.4" class="cb"/>
<circle cx="1694.0" cy="499.0" r="5.4" class="cb"/>
<circle cx="1619.8" cy="489.0" r="5.4" class="cb"/>
<circle cx="1632.4" cy="492.4" r="5.4" class="cb"/>
<circle cx="1600.0" cy="500.8" r="5.4" class="cb"/>
<circle cx="1628.0" cy="505.6" r="5.4" class="cb"/>
<circle cx="1623.6" cy="511.2" r="5.4" class="cb"/>
<circle cx="1629.2" cy="510.8" r="5.4" class="cb"/>
<circle cx="1636.8" cy="510.8" r="5.4" class="cb"/>
<circle cx="1635.2" cy="519.6" r="5.4" class="cb"/>
<circle cx="1632.0" cy="522.8" r="5.4" class="cb"/>
<circle cx="1648.0" cy="522.4" r="5.4" class="cb"/>
<circle cx="1647.6" cy="528.0" r="5.4" class="cb"/>
<circle cx="1611.2" cy="526.0" r="5.4" class="cb"/>
<circle cx="1608.0" cy="528.8" r="5.4" class="cb"/>
<circle cx="1612.0" cy="528.0" r="5.4" class="cb"/>
<circle cx="1619.2" cy="530.4" r="5.4" class="cb"/>
<circle cx="1660.0" cy="538.0" r="5.4" class="cb"/>
<circle cx="1625.6" cy="543.2" r="5.4" class="cb"/>
<circle cx="1628.0" cy="544.8" r="5.4" class="cb"/>
<circle cx="1629.6" cy="546.4" r="5.4" class="cb"/>
<circle cx="1642.0" cy="552.8" r="5.4" class="cb"/>
<circle cx="1669.6" cy="555.2" r="5.4" class="cb"/>
<circle cx="1690.0" cy="403.6" r="5.4" class="cb"/>
<circle cx="1685.0" cy="412.8" r="5.4" class="cb"/>
<circle cx="1686.2" cy="434.4" r="5.4" class="cb"/>
<circle cx="1668.4" cy="447.8" r="5.4" class="cb"/>
<circle cx="1615.2" cy="424.0" r="5.4" class="cb"/>
<circle cx="1616.0" cy="447.0" r="5.4" class="cb"/>
<circle cx="1632.0" cy="447.8" r="5.4" class="cb"/>
<circle cx="1562.8" cy="487.8" r="5.4" class="cb"/>
<circle cx="1575.2" cy="486.2" r="5.4" class="cb"/>
<circle cx="1561.2" cy="500.6" r="5.4" class="cb"/>
<circle cx="1568.8" cy="500.8" r="5.4" class="cb"/>
<polygon points="1402.80,747.30 1405.25,754.83 1413.17,754.83 1406.76,759.49 1409.21,767.02 1402.80,762.36 1396.39,767.02 1398.84,759.49 1392.43,754.83 1400.35,754.83" fill="#ff0000" stroke="#ff0000" stroke-width="1.5" stroke-linejoin="bevel"/>
<polygon points="1551.40,424.10 1553.85,431.63 1561.77,431.63 1555.36,436.29 1557.81,443.82 1551.40,439.16 1544.99,443.82 1547.44,436.29 1541.03,431.63 1548.95,431.63" fill="#0000ff" stroke="#0000ff" stroke-width="1.5" stroke-linejoin="bevel"/>
</g>
<line x1="1292.80" y1="1008.7" x2="1292.80" y2="1015.0" class="t"/>
<text transform="translate(1292.80,1040.30)" text-anchor="middle">3</text>
<line x1="1367.92" y1="1008.7" x2="1367.92" y2="1015.0" class="t"/>
<text transform="translate(1367.92,1040.30)" text-anchor="middle">4</text>
<line x1="1443.03" y1="1008.7" x2="1443.03" y2="1015.0" class="t"/>
<text transform="translate(1443.03,1040.30)" text-anchor="middle">5</text>
<line x1="1518.15" y1="1008.7" x2="1518.15" y2="1015.0" class="t"/>
<text transform="translate(1518.15,1040.30)" text-anchor="middle">6</text>
<line x1="1593.27" y1="1008.7" x2="1593.27" y2="1015.0" class="t"/>
<text transform="translate(1593.27,1040.30)" text-anchor="middle">7</text>
<line x1="1668.38" y1="1008.7" x2="1668.38" y2="1015.0" class="t"/>
<text transform="translate(1668.38,1040.30)" text-anchor="middle">8</text>
<line x1="1743.50" y1="1008.7" x2="1743.50" y2="1015.0" class="t"/>
<text transform="translate(1743.50,1040.30)" text-anchor="middle">9</text>
<line x1="1292.8" y1="1008.70" x2="1286.0" y2="1008.70" class="t"/>
<text transform="translate(1280.40,1018.20)" text-anchor="end">1.0</text>
<line x1="1292.8" y1="912.11" x2="1286.0" y2="912.11" class="t"/>
<text transform="translate(1280.40,921.61)" text-anchor="end">1.2</text>
<line x1="1292.8" y1="815.53" x2="1286.0" y2="815.53" class="t"/>
<text transform="translate(1280.40,825.03)" text-anchor="end">1.4</text>
<line x1="1292.8" y1="718.94" x2="1286.0" y2="718.94" class="t"/>
<text transform="translate(1280.40,728.44)" text-anchor="end">1.6</text>
<line x1="1292.8" y1="622.35" x2="1286.0" y2="622.35" class="t"/>
<text transform="translate(1280.40,631.85)" text-anchor="end">1.8</text>
<line x1="1292.8" y1="525.76" x2="1286.0" y2="525.76" class="t"/>
<text transform="translate(1280.40,535.26)" text-anchor="end">2.0</text>
<line x1="1292.8" y1="429.17" x2="1286.0" y2="429.17" class="t"/>
<text transform="translate(1280.40,438.67)" text-anchor="end">2.2</text>
<line x1="1292.8" y1="332.59" x2="1286.0" y2="332.59" class="t"/>
<text transform="translate(1280.40,342.09)" text-anchor="end">2.4</text>
<line x1="1292.8" y1="236.00" x2="1286.0" y2="236.00" class="t"/>
<text transform="translate(1280.40,245.50)" text-anchor="end">2.6</text>
<rect x="1292.8" y="236.0" width="450.70" height="772.70" class="s"/>
<text transform="translate(1518.15,225.00)" text-anchor="middle">(c) Variability of Phases</text>
<text transform="translate(1518.15,1072.20)" text-anchor="middle">STD of HF</text>
<text transform="translate(1227.70,622.35) rotate(-90)" text-anchor="middle">STD of LF</text>
<rect x="1305.5" y="248.5" width="279.5" height="154.5" rx="4" ry="4" class="lg"/>
<circle cx="1340.5" cy="268.60" r="5.4" class="cr"/>
<text transform="translate(1385.50,277.30)">Model Summer</text>
<circle cx="1340.5" cy="305.40" r="5.4" class="cb"/>
<text transform="translate(1385.50,314.10)">Model Winter</text>
<polygon points="1340.50,331.60 1342.95,339.13 1350.87,339.13 1344.46,343.79 1346.91,351.32 1340.50,346.66 1334.09,351.32 1336.54,343.79 1330.13,339.13 1338.05,339.13" fill="#ff0000" stroke="#ff0000" stroke-width="1.5" stroke-linejoin="bevel"/>
<text transform="translate(1385.50,350.90)">ERA5 Summer</text>
<polygon points="1340.50,368.40 1342.95,375.93 1350.87,375.93 1344.46,380.59 1346.91,388.12 1340.50,383.46 1334.09,388.12 1336.54,380.59 1330.13,375.93 1338.05,375.93" fill="#0000ff" stroke="#0000ff" stroke-width="1.5" stroke-linejoin="bevel"/>
<text transform="translate(1385.50,387.70)">ERA5 Winter</text>
</g>
</svg>
</body></html>
